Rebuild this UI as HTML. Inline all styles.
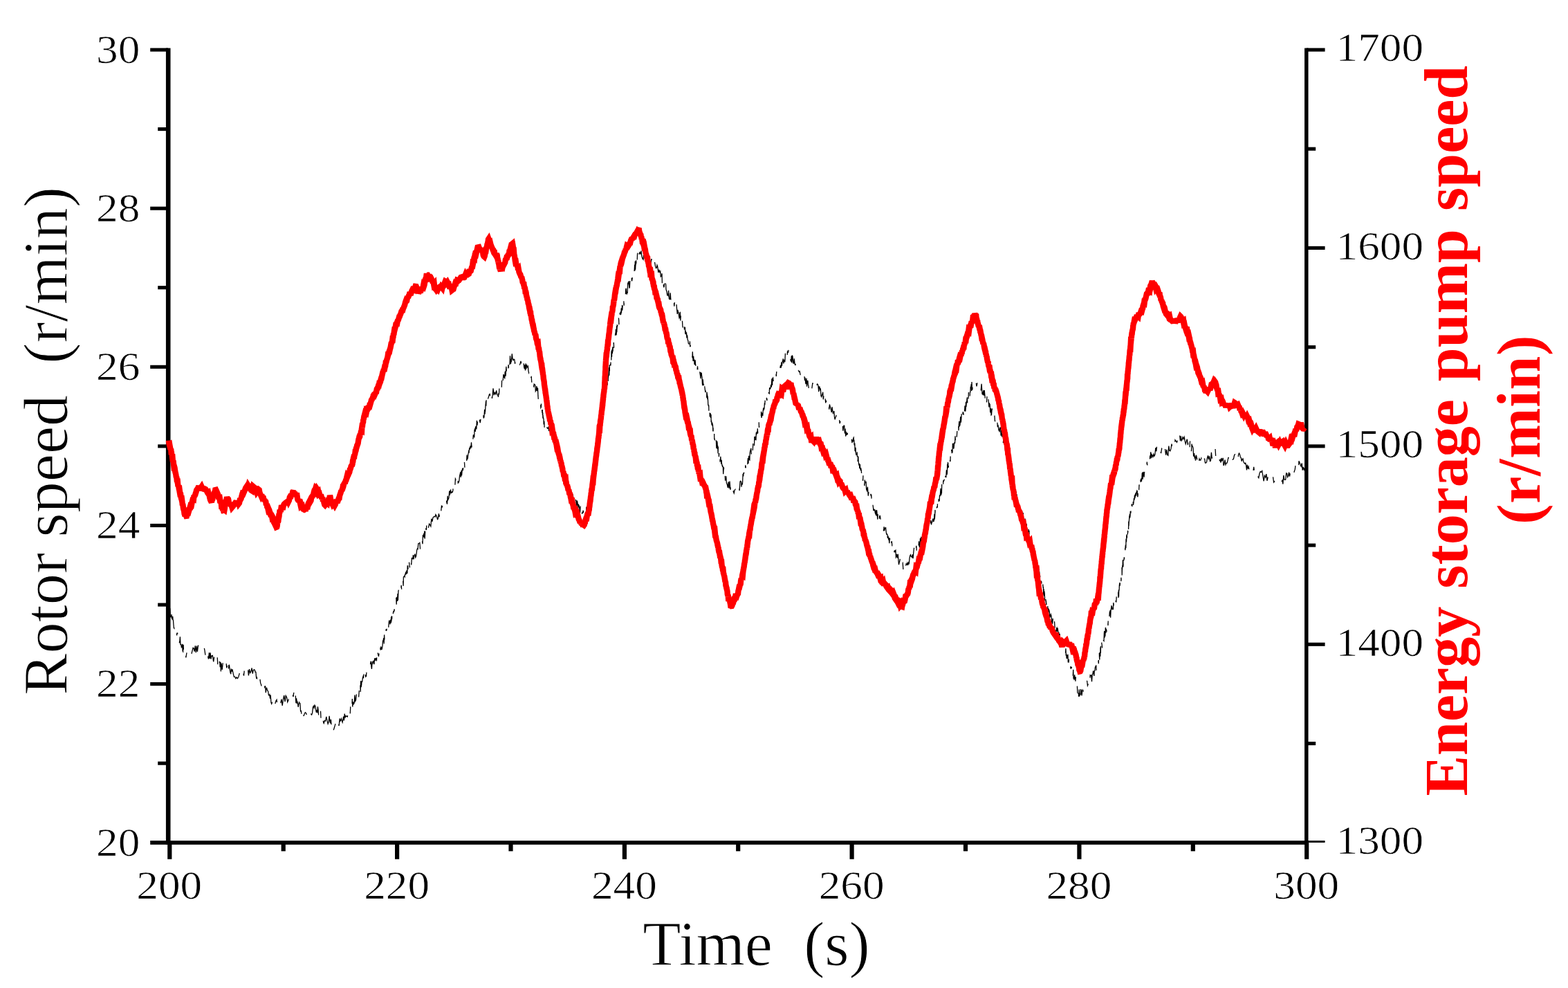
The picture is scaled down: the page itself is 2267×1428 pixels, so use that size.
<!DOCTYPE html>
<html lang="en"><head><meta charset="utf-8"><title>Rotor speed and energy storage pump speed</title>
<style>
html,body{margin:0;padding:0;background:#fff;}
body{width:2267px;height:1428px;overflow:hidden;}
svg{display:block;}
text{font-family:"Liberation Serif",serif;white-space:pre;}
.tk{font-size:56.5px;fill:#000;stroke:#fff;stroke-width:0.7px;}
.tt{stroke:#fff;stroke-width:1px;}
</style></head><body>
<svg width="2267" height="1428" viewBox="0 0 2267 1428">
<rect width="2267" height="1428" fill="#fff"/>
<g stroke="#000" stroke-width="5.1" fill="none" stroke-linecap="butt">
<line x1="243.2" y1="69.4" x2="243.2" y2="1220.6" stroke-width="6.6"/>
<line x1="1888.8" y1="69.4" x2="1888.8" y2="1220.6" stroke-width="5.5"/>
<line x1="217.2" y1="1217.8" x2="1891.5" y2="1217.8" stroke-width="5.7"/>
<line x1="1891" y1="1216.3999999999999" x2="1915.6" y2="1216.3999999999999" stroke-width="2.9"/>
<line x1="217.2" y1="72.0" x2="243" y2="72.0"/>
<line x1="228.2" y1="186.6" x2="243" y2="186.6"/>
<line x1="217.2" y1="301.2" x2="243" y2="301.2"/>
<line x1="228.2" y1="415.7" x2="243" y2="415.7"/>
<line x1="217.2" y1="530.3" x2="243" y2="530.3"/>
<line x1="228.2" y1="644.9" x2="243" y2="644.9"/>
<line x1="217.2" y1="759.5" x2="243" y2="759.5"/>
<line x1="228.2" y1="874.1" x2="243" y2="874.1"/>
<line x1="217.2" y1="988.6" x2="243" y2="988.6"/>
<line x1="228.2" y1="1103.2" x2="243" y2="1103.2"/>
<line x1="1888.8" y1="72.0" x2="1915.6" y2="72.0"/>
<line x1="1888.8" y1="215.2" x2="1902.2" y2="215.2"/>
<line x1="1888.8" y1="358.4" x2="1915.6" y2="358.4"/>
<line x1="1888.8" y1="501.7" x2="1902.2" y2="501.7"/>
<line x1="1888.8" y1="644.9" x2="1915.6" y2="644.9"/>
<line x1="1888.8" y1="788.1" x2="1902.2" y2="788.1"/>
<line x1="1888.8" y1="931.3" x2="1915.6" y2="931.3"/>
<line x1="1888.8" y1="1074.6" x2="1902.2" y2="1074.6"/>
<line x1="245.3" y1="1217.8" x2="245.3" y2="1241.8" stroke-width="6.2"/>
<line x1="409.7" y1="1217.8" x2="409.7" y2="1230.3" stroke-width="6.2"/>
<line x1="574.1" y1="1217.8" x2="574.1" y2="1241.8" stroke-width="6.2"/>
<line x1="738.5" y1="1217.8" x2="738.5" y2="1230.3" stroke-width="6.2"/>
<line x1="902.9" y1="1217.8" x2="902.9" y2="1241.8" stroke-width="6.2"/>
<line x1="1067.2" y1="1217.8" x2="1067.2" y2="1230.3" stroke-width="6.2"/>
<line x1="1231.6" y1="1217.8" x2="1231.6" y2="1241.8" stroke-width="6.2"/>
<line x1="1396.0" y1="1217.8" x2="1396.0" y2="1230.3" stroke-width="6.2"/>
<line x1="1560.4" y1="1217.8" x2="1560.4" y2="1241.8" stroke-width="6.2"/>
<line x1="1724.8" y1="1217.8" x2="1724.8" y2="1230.3" stroke-width="6.2"/>
<line x1="1889.2" y1="1217.8" x2="1889.2" y2="1241.8" stroke-width="6.2"/>
</g>
<path d="M244.0,888.4 L244.6,889.5 L245.2,878.3 L245.8,879.9 L246.4,891.6 L247.0,891.5 L247.6,891.8 L248.0,888.0 L248.4,893.4 L248.9,894.6 L249.3,895.5 L249.7,890.9 L250.1,895.9 L250.5,896.6 L250.9,902.5 L251.4,907.6 L251.8,908.2 L252.2,903.7 L252.6,903.6 L253.0,902.4 L253.4,900.4 L253.9,901.5 L254.3,908.9 L254.7,908.1 L255.2,910.1 L255.6,918.4 L256.1,914.5 L256.6,916.1 L257.1,912.8 L257.5,911.0 L258.0,916.4 L258.5,914.9 L259.0,921.3 L259.4,929.3 L259.9,925.9 L260.4,920.2 L260.9,931.4 L261.3,931.2 L261.8,931.5 L262.3,935.1 L262.7,934.2 L263.2,935.8 L263.7,930.9 L264.1,940.8 L264.6,941.7 L265.1,931.7 L265.5,941.2 L266.0,941.8 L266.5,939.5 L266.9,941.6 L267.4,942.2 L267.9,949.5 L268.3,944.7 L268.8,950.5 L270.0,943.3 L271.2,950.1 L272.4,949.7 L273.5,943.0 L274.7,943.8 L275.9,948.2 L277.0,944.7 L278.0,940.7 L279.1,936.3 L280.1,937.0 L281.2,941.6 L282.3,933.4 L283.3,943.1 L284.4,933.5 L285.4,941.8 L286.5,932.6 L287.6,942.4 L288.7,939.5 L289.8,937.3 L290.9,938.2 L292.0,940.7 L293.1,940.5 L294.2,937.3 L295.3,936.5 L296.2,941.6 L297.1,948.4 L297.9,945.0 L298.8,938.2 L299.7,949.5 L300.6,949.1 L301.5,952.5 L302.4,943.3 L303.2,952.0 L304.1,943.3 L305.0,952.5 L305.9,948.0 L307.3,947.4 L308.7,956.5 L310.2,945.7 L311.6,951.5 L313.0,956.2 L313.6,948.8 L314.2,949.5 L314.8,960.1 L315.3,954.8 L315.9,960.1 L316.5,951.7 L317.1,957.5 L317.7,956.0 L318.2,964.2 L318.8,957.1 L319.4,970.5 L320.0,958.7 L321.2,967.9 L322.3,957.4 L323.5,960.1 L324.7,967.3 L325.8,957.5 L327.0,957.3 L327.7,965.4 L328.5,962.1 L329.2,958.4 L330.0,972.7 L330.7,961.9 L331.4,961.4 L332.2,966.7 L332.9,971.5 L333.7,974.3 L334.4,966.5 L335.2,970.7 L335.9,967.4 L337.2,973.6 L338.4,978.3 L339.7,978.2 L340.9,980.7 L342.2,978.9 L343.4,980.7 L344.7,978.8 L345.8,974.9 L346.9,970.8 L348.1,976.2 L349.2,970.7 L350.3,967.1 L351.4,971.3 L352.5,976.6 L353.6,965.5 L354.8,971.3 L355.9,967.9 L357.0,969.0 L358.2,964.4 L359.4,976.4 L360.5,967.2 L361.7,972.6 L362.9,970.6 L364.1,965.5 L365.2,973.7 L366.4,968.4 L367.6,967.8 L368.4,968.5 L369.1,971.3 L369.9,971.4 L370.6,979.9 L371.4,979.2 L372.1,986.9 L372.9,987.2 L373.7,989.0 L374.4,979.4 L375.2,983.4 L375.9,981.7 L376.7,987.4 L377.4,988.9 L378.2,992.4 L378.9,992.2 L379.6,987.0 L380.2,990.4 L380.9,992.9 L381.6,986.7 L382.3,988.2 L382.9,994.5 L383.6,991.4 L384.3,1001.1 L385.0,995.4 L385.6,994.5 L386.3,996.8 L387.0,998.5 L387.7,999.4 L388.4,1004.7 L389.1,1005.0 L389.8,1003.9 L390.5,1009.6 L391.2,1004.6 L391.9,1015.4 L392.7,1017.3 L393.4,1015.0 L394.1,1012.0 L394.8,1014.1 L395.5,1016.2 L396.2,1009.8 L396.9,1016.0 L397.6,1018.6 L398.8,1013.2 L400.0,1011.4 L401.1,1020.7 L402.3,1014.0 L403.5,1015.6 L404.7,1020.6 L405.8,1015.7 L407.0,1010.6 L408.2,1019.8 L409.5,1010.7 L410.7,1005.2 L412.0,1014.1 L413.2,1005.4 L414.5,1007.7 L415.7,1014.7 L417.0,1011.8 L418.2,1002.0 L419.3,1007.6 L420.5,1006.4 L421.7,1006.9 L422.8,1002.4 L424.0,1007.1 L424.7,1001.1 L425.3,1005.1 L426.0,1007.5 L426.6,1016.5 L427.3,1005.6 L427.9,1016.2 L428.6,1009.4 L429.2,1015.8 L429.9,1014.4 L430.5,1016.6 L431.2,1021.8 L431.9,1017.8 L432.6,1015.1 L433.2,1016.2 L433.9,1016.7 L434.6,1028.5 L435.3,1026.7 L435.9,1032.2 L436.6,1029.6 L437.3,1021.3 L438.0,1031.3 L438.6,1034.0 L439.3,1034.3 L440.0,1032.3 L441.3,1029.8 L442.5,1030.7 L443.8,1035.0 L445.0,1027.1 L446.3,1030.2 L447.5,1029.0 L448.8,1035.2 L449.7,1032.2 L450.6,1033.1 L451.5,1030.8 L452.4,1022.4 L453.2,1020.6 L454.1,1023.3 L455.0,1019.2 L455.9,1020.7 L456.6,1025.3 L457.3,1029.7 L458.0,1026.1 L458.7,1030.4 L459.4,1021.3 L460.1,1026.0 L460.8,1036.1 L461.5,1025.2 L462.2,1030.1 L462.9,1026.2 L463.5,1027.7 L464.1,1040.2 L464.7,1042.7 L465.3,1039.1 L465.8,1033.0 L466.4,1036.6 L467.0,1036.9 L467.6,1044.2 L468.2,1045.5 L469.4,1041.5 L470.6,1042.1 L471.8,1035.8 L472.9,1041.2 L474.1,1046.3 L475.3,1043.0 L476.1,1034.7 L476.9,1041.6 L477.6,1045.3 L478.4,1039.9 L479.2,1049.8 L480.0,1044.7 L480.7,1049.1 L481.5,1045.9 L482.3,1055.1 L483.4,1051.5 L484.5,1047.9 L485.6,1041.3 L486.8,1044.8 L487.9,1038.4 L489.0,1045.6 L490.1,1049.0 L491.2,1038.5 L492.0,1042.1 L492.8,1040.8 L493.5,1038.7 L494.3,1041.9 L495.1,1044.1 L495.9,1039.9 L496.6,1035.6 L497.4,1041.5 L498.2,1031.6 L499.2,1036.7 L500.2,1034.7 L501.2,1035.4 L502.3,1036.0 L503.3,1026.4 L504.3,1031.2 L505.3,1027.4 L505.7,1029.9 L506.1,1033.1 L506.5,1027.0 L506.9,1017.1 L507.3,1022.2 L507.7,1024.5 L508.1,1025.7 L508.5,1021.2 L508.9,1022.3 L509.3,1009.9 L509.7,1021.6 L510.1,1017.4 L510.5,1014.5 L511.3,1017.7 L512.1,1016.4 L512.9,1004.5 L513.7,1013.5 L514.5,1011.9 L515.4,1003.0 L516.2,1009.6 L517.0,1006.4 L517.8,999.9 L518.6,1007.5 L519.4,997.2 L519.7,1002.6 L519.9,998.9 L520.2,995.1 L520.4,998.2 L520.7,995.6 L520.9,990.6 L521.2,1000.0 L521.5,986.3 L521.7,984.0 L522.0,989.5 L522.2,993.2 L522.5,989.4 L522.7,989.5 L523.0,984.5 L523.6,986.0 L524.3,980.1 L524.9,978.1 L525.5,980.2 L526.2,972.4 L526.8,972.1 L527.5,980.4 L528.1,971.1 L528.7,978.1 L529.4,977.4 L530.0,971.0 L530.7,973.7 L531.4,974.2 L532.0,974.1 L532.7,962.8 L533.4,962.2 L534.1,964.1 L534.7,964.2 L535.4,960.8 L536.1,955.7 L536.8,962.3 L537.4,966.9 L538.1,957.4 L538.8,958.7 L539.5,955.5 L540.2,955.3 L540.9,960.2 L541.6,951.3 L542.3,955.0 L543.0,951.6 L543.7,951.3 L544.4,955.5 L545.1,942.7 L545.8,952.1 L546.4,943.6 L546.9,947.2 L547.5,948.1 L548.0,944.9 L548.6,940.0 L549.1,945.0 L549.7,933.3 L550.2,939.7 L550.8,935.1 L551.3,935.8 L551.9,939.1 L552.4,937.1 L553.0,933.5 L553.4,927.7 L553.7,925.4 L554.1,927.3 L554.5,922.9 L554.9,922.3 L555.2,930.5 L555.6,917.4 L556.0,926.0 L556.3,918.6 L556.7,917.2 L557.1,915.3 L557.5,910.6 L557.8,914.7 L558.2,909.3 L558.7,912.0 L559.1,908.8 L559.6,916.0 L560.1,915.2 L560.6,907.4 L561.0,909.0 L561.5,911.8 L562.0,902.2 L562.5,897.9 L562.9,898.7 L563.4,896.8 L563.9,902.5 L564.4,897.1 L564.8,895.7 L565.3,900.6 L565.6,891.5 L565.8,898.4 L566.1,894.7 L566.4,890.2 L566.6,894.9 L566.9,887.0 L567.2,893.2 L567.5,892.7 L567.7,885.5 L568.0,886.9 L568.3,889.3 L568.5,885.2 L568.8,884.1 L569.2,884.5 L569.6,884.3 L570.0,880.5 L570.4,882.4 L570.8,871.6 L571.2,875.0 L571.6,874.4 L572.0,869.0 L572.4,868.1 L572.8,863.8 L573.2,873.6 L573.6,863.9 L574.0,864.4 L574.5,869.0 L575.0,858.0 L575.4,867.6 L575.9,854.8 L576.4,852.2 L576.9,855.5 L577.4,854.5 L577.8,861.1 L578.3,859.4 L578.8,856.6 L579.3,850.8 L579.8,851.1 L580.2,845.7 L580.7,852.8 L581.2,845.5 L581.6,842.8 L581.9,846.5 L582.3,838.5 L582.7,839.6 L583.1,846.9 L583.4,834.0 L583.8,833.5 L584.3,833.1 L584.7,832.6 L585.2,833.7 L585.6,830.2 L586.1,830.2 L586.5,827.7 L587.0,826.4 L587.4,830.3 L587.9,825.3 L588.3,824.6 L588.8,828.9 L589.2,817.8 L589.7,817.8 L590.2,826.4 L590.6,819.3 L591.1,823.0 L591.5,812.7 L592.0,817.0 L592.4,820.3 L592.9,812.0 L593.3,816.8 L593.8,813.4 L594.2,809.1 L594.7,816.4 L595.4,806.7 L596.0,806.7 L596.7,807.6 L597.4,802.2 L598.0,808.3 L598.7,803.8 L599.3,802.5 L600.0,800.6 L600.7,805.7 L601.3,804.6 L602.0,801.4 L602.7,794.8 L603.4,793.1 L604.1,793.6 L604.8,785.8 L605.5,785.5 L606.2,796.8 L606.8,783.5 L607.5,793.7 L608.2,789.0 L608.9,791.2 L609.6,778.3 L610.3,780.4 L611.0,786.2 L611.4,773.9 L611.8,774.0 L612.2,776.2 L612.6,772.5 L612.9,770.8 L613.3,776.9 L613.7,767.6 L614.1,778.7 L614.5,772.9 L614.9,763.3 L615.3,773.9 L615.7,763.5 L616.1,765.6 L616.5,765.4 L616.8,758.3 L617.2,762.2 L617.6,754.7 L618.0,755.4 L618.4,764.3 L619.5,762.2 L620.6,757.2 L621.7,758.7 L622.8,760.7 L623.8,749.7 L624.9,753.8 L626.0,748.1 L627.1,747.1 L628.2,746.3 L629.3,747.0 L629.9,743.7 L630.6,744.8 L631.2,746.1 L631.9,748.4 L632.5,750.6 L633.1,750.2 L633.8,746.5 L634.4,742.4 L635.1,747.1 L635.7,735.4 L636.4,733.6 L637.0,742.4 L637.7,738.6 L638.4,731.6 L639.1,732.8 L639.7,730.5 L640.4,731.2 L641.1,730.0 L641.8,728.4 L642.5,732.9 L643.2,731.9 L643.8,727.3 L644.5,724.8 L645.2,721.0 L645.9,726.6 L646.5,728.6 L647.2,716.8 L647.8,722.3 L648.4,721.1 L649.0,719.4 L649.7,709.5 L650.3,715.7 L650.9,709.6 L651.6,708.4 L652.2,712.7 L652.8,712.4 L653.4,711.0 L654.1,711.5 L654.7,709.8 L655.2,705.4 L655.8,698.2 L656.3,707.1 L656.8,706.6 L657.4,705.5 L657.9,701.0 L658.4,691.9 L658.9,692.9 L659.5,690.4 L660.0,696.6 L660.8,694.3 L661.5,688.3 L662.3,698.0 L663.0,697.3 L663.8,695.2 L664.5,688.1 L665.3,684.7 L665.7,682.3 L666.2,689.8 L666.6,686.9 L667.1,679.8 L667.5,687.4 L668.0,681.5 L668.4,678.2 L668.8,677.0 L669.3,680.1 L669.7,675.2 L670.2,676.9 L670.6,668.2 L671.0,675.2 L671.5,668.0 L671.9,675.7 L672.4,664.8 L672.8,665.3 L673.2,667.0 L673.7,663.8 L674.1,664.5 L674.6,668.9 L675.0,657.6 L675.5,664.4 L675.9,662.1 L676.3,662.2 L676.8,656.3 L677.2,655.2 L677.7,652.5 L678.1,653.2 L678.5,648.9 L679.0,646.8 L679.4,649.7 L679.9,644.5 L680.3,647.2 L680.8,647.5 L681.2,642.6 L681.5,639.4 L681.8,644.2 L682.2,646.5 L682.5,636.3 L682.8,640.5 L683.1,639.8 L683.4,641.7 L683.7,637.6 L684.1,631.1 L684.4,628.4 L684.7,635.9 L685.0,627.1 L685.3,621.8 L685.7,632.5 L686.0,621.8 L686.3,622.1 L686.6,620.9 L686.9,618.7 L687.2,624.0 L687.6,617.4 L687.9,617.5 L688.2,615.9 L688.8,620.5 L689.4,607.9 L690.0,614.6 L690.6,607.1 L691.1,606.2 L691.7,611.4 L692.3,607.0 L692.9,601.5 L693.5,607.6 L694.2,611.2 L694.9,606.3 L695.6,603.2 L696.3,606.4 L697.0,607.0 L697.8,595.2 L698.5,596.2 L699.2,604.5 L699.9,602.9 L700.6,591.7 L700.8,597.5 L701.1,598.6 L701.3,593.4 L701.6,593.7 L701.8,589.9 L702.1,584.6 L702.3,583.0 L702.5,579.7 L702.8,586.8 L703.0,578.2 L703.3,583.7 L703.5,579.2 L703.8,578.6 L704.0,584.8 L704.8,575.7 L705.6,575.9 L706.5,573.6 L707.3,570.4 L708.1,569.5 L708.9,572.9 L709.7,575.9 L710.5,564.8 L711.4,575.8 L712.2,571.0 L713.0,561.4 L714.2,571.1 L715.3,567.4 L716.5,569.6 L717.7,564.4 L718.8,570.7 L720.0,571.5 L720.4,573.9 L720.8,569.8 L721.1,570.3 L721.5,569.4 L721.9,561.0 L722.3,557.0 L722.6,562.0 L723.0,555.9 L723.4,554.8 L723.8,556.1 L724.2,557.8 L724.5,557.6 L724.9,556.8 L725.3,559.7 L725.7,546.7 L726.2,551.9 L726.6,544.1 L727.0,551.0 L727.5,546.5 L727.9,541.1 L728.4,542.3 L728.8,546.0 L729.2,542.2 L729.7,547.5 L730.1,538.1 L730.5,536.6 L731.0,543.6 L731.4,537.9 L731.9,529.7 L732.3,538.0 L732.8,530.9 L733.2,537.9 L733.7,532.4 L734.2,533.6 L734.7,533.7 L735.1,527.1 L735.6,532.4 L736.1,518.0 L736.6,521.3 L737.0,527.1 L737.5,514.3 L738.0,522.4 L738.5,525.8 L738.9,520.7 L739.4,521.6 L740.3,511.4 L741.1,518.8 L742.0,520.7 L742.9,519.1 L743.8,519.7 L744.6,525.8 L745.5,517.9 L746.4,517.1 L747.7,525.0 L749.0,530.5 L750.4,528.8 L751.7,526.8 L753.0,521.8 L754.4,530.5 L755.7,518.6 L757.0,521.8 L757.6,530.5 L758.3,533.1 L758.9,527.3 L759.5,535.5 L760.2,525.4 L760.8,533.4 L761.5,527.1 L762.1,530.5 L762.7,531.0 L763.4,529.6 L764.0,536.3 L764.6,538.8 L765.2,536.9 L765.8,543.2 L766.4,536.0 L767.0,543.7 L767.6,545.0 L768.2,544.5 L768.8,552.8 L769.4,542.9 L770.0,548.3 L770.6,550.0 L771.2,549.9 L771.7,559.6 L772.2,555.2 L772.8,555.6 L773.3,555.8 L773.8,557.0 L774.3,565.4 L774.8,564.5 L775.4,563.6 L775.9,558.0 L776.4,565.3 L776.8,560.1 L777.2,564.4 L777.5,561.1 L777.9,571.9 L778.3,577.0 L778.7,573.5 L779.0,573.8 L779.4,570.6 L779.8,574.6 L780.2,576.1 L780.6,576.8 L780.9,575.9 L781.3,576.5 L781.7,585.2 L781.9,589.3 L782.2,588.7 L782.4,587.2 L782.6,580.2 L782.8,585.3 L783.1,594.1 L783.3,597.2 L783.5,592.5 L783.7,594.1 L784.0,597.0 L784.2,592.1 L784.4,599.9 L784.7,596.3 L784.9,604.3 L785.1,600.2 L785.3,604.3 L785.6,604.1 L785.8,605.0 L786.0,605.3 L786.2,613.4 L786.5,611.9 L786.7,608.5 L786.9,611.0 L787.1,617.7 L787.4,616.9 L787.6,616.8 L788.6,621.8 L789.7,610.7 L790.8,618.1 L791.8,619.1 L792.9,617.4 L793.9,625.2 L795.0,625.9 L796.0,618.5 L796.4,622.8 L796.9,626.2 L797.3,626.4 L797.7,622.9 L798.2,630.3 L798.6,625.2 L799.0,623.6 L799.5,632.0 L799.9,633.0 L800.3,630.9 L800.8,633.4 L801.2,641.4 L801.7,640.1 L802.1,635.7 L802.5,644.0 L803.0,640.5 L803.4,639.4 L803.8,644.0 L804.3,647.1 L804.7,649.9 L805.1,647.9 L805.6,649.1 L806.0,646.6 L806.3,642.8 L806.7,649.9 L807.0,646.4 L807.3,659.2 L807.7,652.4 L808.0,657.0 L808.3,660.1 L808.7,653.6 L809.0,664.0 L809.3,658.2 L809.7,656.0 L810.0,664.5 L810.3,663.0 L810.7,671.5 L811.0,666.1 L811.3,662.5 L811.7,662.7 L812.0,664.1 L812.3,671.8 L812.7,676.2 L813.0,668.2 L813.3,673.3 L813.7,676.7 L814.0,683.8 L814.3,686.1 L814.7,686.0 L815.0,683.9 L815.4,684.3 L815.8,680.6 L816.1,687.3 L816.5,682.3 L816.9,685.5 L817.2,694.1 L817.6,691.7 L818.0,695.2 L818.4,692.8 L818.8,691.4 L819.1,695.8 L819.5,698.0 L819.9,694.6 L820.2,704.3 L820.6,707.5 L821.0,697.5 L821.4,699.6 L821.8,708.9 L822.1,708.9 L822.5,703.1 L822.9,709.5 L823.2,705.8 L823.6,715.8 L824.0,713.2 L824.6,713.3 L825.3,709.6 L825.9,714.2 L826.5,716.3 L827.2,715.9 L827.8,714.5 L828.4,715.9 L829.1,724.1 L829.7,728.4 L830.3,728.4 L831.0,726.4 L831.6,730.0 L832.2,722.0 L832.9,724.2 L833.5,732.3 L834.2,723.5 L834.9,725.7 L835.6,736.5 L836.3,729.4 L837.0,730.3 L837.8,734.3 L838.5,741.5 L839.2,731.0 L839.9,744.2 L840.6,737.3 L841.5,742.0 L842.4,741.6 L843.2,737.7 L844.1,750.4 L845.0,740.5 L845.6,748.2 L846.1,748.1 L846.7,741.0 L847.2,747.0 L847.8,733.3 L848.3,733.4 L848.9,737.0 L849.4,730.2 L850.0,739.3 L850.2,734.1 L850.4,736.6 L850.7,728.1 L850.9,723.2 L851.1,734.0 L851.3,723.1 L851.6,724.8 L851.8,719.4 L852.0,724.5 L852.2,721.5 L852.4,716.5 L852.7,713.0 L852.9,715.9 L853.1,720.8 L853.3,710.7 L853.6,710.5 L853.8,714.6 L854.0,713.6 L854.2,714.6 L854.4,711.1 L854.7,712.7 L854.9,701.7 L855.1,711.1 L855.3,697.3 L855.6,697.3 L855.8,695.7 L856.0,703.9 L856.2,698.8 L856.4,703.3 L856.6,702.8 L856.8,701.2 L857.0,695.1 L857.2,690.2 L857.4,697.4 L857.5,692.9 L857.7,684.1 L857.9,687.8 L858.1,679.1 L858.3,677.8 L858.5,685.2 L858.7,685.0 L858.9,685.7 L859.1,682.9 L859.3,673.0 L859.5,680.1 L859.7,682.2 L859.9,676.7 L860.1,672.6 L860.3,668.7 L860.5,664.2 L860.6,670.8 L860.8,674.2 L861.0,661.1 L861.2,669.7 L861.4,669.4 L861.6,660.5 L861.8,666.1 L862.0,655.2 L862.2,655.9 L862.3,658.4 L862.5,661.5 L862.7,655.4 L862.9,647.8 L863.0,658.3 L863.2,652.0 L863.4,653.6 L863.5,644.6 L863.7,644.8 L863.9,640.1 L864.1,640.2 L864.2,642.4 L864.4,640.8 L864.6,642.9 L864.7,644.1 L864.9,635.8 L865.1,642.8 L865.3,637.7 L865.4,632.1 L865.6,628.6 L865.8,638.1 L865.9,632.6 L866.1,622.7 L866.3,630.4 L866.5,624.9 L866.6,624.2 L866.8,627.7 L867.0,618.8 L867.1,618.2 L867.3,620.7 L867.5,624.5 L867.7,611.8 L867.8,621.0 L868.0,618.1 L868.2,609.2 L868.4,614.7 L868.6,612.8 L868.7,612.8 L868.9,609.0 L869.1,604.6 L869.3,606.0 L869.5,601.0 L869.7,602.7 L869.9,600.7 L870.0,595.2 L870.2,595.7 L870.4,596.0 L870.6,595.4 L870.8,596.4 L871.0,597.7 L871.1,589.6 L871.3,592.4 L871.5,588.1 L871.7,585.2 L871.9,582.7 L872.1,592.9 L872.3,591.2 L872.4,588.5 L872.6,578.0 L872.8,576.4 L873.0,574.5 L873.2,575.9 L873.5,576.4 L873.7,569.3 L874.0,573.8 L874.2,576.3 L874.5,577.0 L874.7,566.7 L874.9,562.8 L875.2,572.7 L875.4,565.6 L875.7,563.4 L875.9,559.9 L876.1,560.2 L876.4,558.9 L876.6,557.5 L876.9,555.9 L877.1,558.6 L877.3,561.4 L877.6,553.1 L877.8,553.3 L878.1,553.0 L878.3,556.7 L878.6,554.4 L878.8,556.2 L879.0,543.6 L879.2,551.1 L879.4,542.7 L879.5,545.4 L879.7,543.5 L879.9,542.9 L880.1,538.1 L880.3,533.3 L880.5,531.1 L880.7,542.7 L880.8,540.9 L881.0,533.7 L881.2,527.2 L881.4,536.4 L881.6,530.5 L881.8,528.8 L882.0,529.9 L882.1,521.8 L882.3,521.4 L882.5,528.5 L882.7,526.1 L882.9,528.4 L883.1,519.4 L883.3,525.7 L883.4,523.2 L883.6,516.6 L883.8,520.8 L884.0,509.3 L884.3,506.7 L884.5,515.9 L884.8,505.2 L885.0,509.2 L885.3,511.0 L885.5,509.0 L885.8,501.3 L886.1,508.0 L886.3,496.3 L886.6,502.3 L886.8,505.7 L887.1,499.6 L887.3,494.9 L887.6,503.4 L887.9,498.3 L888.1,498.0 L888.4,498.2 L888.6,497.5 L888.9,491.2 L889.1,493.4 L889.4,487.6 L889.7,482.9 L889.9,482.0 L890.2,480.5 L890.4,475.9 L890.7,483.0 L890.9,478.7 L891.2,484.5 L891.5,471.2 L891.8,480.2 L892.2,470.7 L892.5,471.2 L892.8,469.5 L893.1,477.5 L893.4,471.9 L893.7,468.1 L894.1,462.8 L894.4,459.6 L894.7,462.8 L895.0,470.1 L895.3,461.4 L895.7,463.3 L896.0,464.9 L896.3,452.0 L896.6,454.5 L896.9,454.6 L897.2,450.6 L897.6,451.5 L897.9,454.4 L898.2,445.5 L898.5,452.0 L898.8,445.2 L899.2,448.9 L899.5,440.9 L899.8,448.2 L900.1,441.8 L900.5,446.2 L900.8,446.9 L901.1,440.2 L901.4,431.0 L901.8,434.6 L902.1,441.8 L902.4,436.0 L902.7,436.2 L903.0,431.0 L903.4,436.2 L903.7,434.4 L904.0,429.0 L904.3,427.4 L904.7,419.3 L905.0,416.7 L905.3,418.2 L905.8,424.2 L906.2,424.8 L906.7,422.6 L907.2,423.0 L907.6,409.9 L908.1,408.7 L908.6,410.7 L909.0,406.2 L909.5,412.9 L910.0,416.6 L910.4,415.0 L910.9,402.7 L911.4,409.3 L911.8,408.3 L912.3,406.9 L912.7,402.2 L913.1,398.5 L913.4,406.3 L913.8,405.3 L914.2,401.4 L914.6,397.7 L915.0,389.3 L915.3,391.5 L915.7,389.7 L916.1,388.5 L916.5,386.8 L916.8,391.9 L917.2,390.8 L917.6,382.5 L917.9,391.4 L918.3,377.5 L918.6,389.6 L918.9,383.1 L919.2,382.7 L919.6,376.4 L919.9,380.8 L920.2,382.2 L920.5,371.5 L920.9,369.2 L921.2,377.1 L921.5,368.3 L921.8,365.1 L922.2,369.2 L922.5,363.7 L922.8,362.8 L923.1,362.5 L923.5,358.4 L923.8,367.5 L924.8,364.8 L925.8,366.9 L926.9,362.7 L927.9,370.4 L928.9,373.8 L930.0,375.2 L931.0,362.7 L932.0,367.3 L932.9,365.1 L933.8,371.4 L934.7,374.9 L935.6,375.1 L936.4,372.4 L937.3,381.8 L938.2,378.0 L939.1,384.1 L940.0,377.0 L940.9,380.9 L941.9,374.2 L942.8,381.2 L943.8,383.7 L944.7,378.8 L945.6,385.1 L946.6,379.2 L947.5,384.7 L948.5,387.6 L949.4,386.7 L950.0,383.3 L950.6,385.0 L951.2,388.7 L951.8,393.8 L952.4,391.9 L953.0,389.8 L953.5,392.9 L954.1,393.7 L954.7,392.4 L955.3,399.9 L955.9,399.4 L956.5,398.6 L957.0,395.2 L957.4,409.2 L957.9,398.2 L958.4,400.4 L958.8,404.0 L959.3,412.2 L959.8,415.4 L960.2,414.1 L960.7,407.6 L961.2,417.6 L961.6,407.5 L962.1,409.8 L962.6,411.0 L963.0,418.5 L963.5,420.1 L964.1,421.7 L964.8,427.3 L965.4,425.7 L966.0,426.8 L966.6,419.9 L967.3,431.4 L967.9,432.6 L968.5,432.5 L969.2,423.2 L969.8,433.2 L970.4,431.6 L971.0,432.9 L971.7,430.3 L972.3,438.5 L972.9,440.1 L973.6,440.7 L974.2,435.3 L974.8,442.6 L975.5,434.6 L976.1,444.0 L976.8,436.1 L977.4,436.9 L978.0,439.4 L978.7,448.2 L979.3,454.0 L979.9,447.9 L980.6,451.5 L981.2,451.8 L981.6,456.6 L982.1,459.6 L982.5,458.8 L983.0,453.2 L983.4,450.8 L983.8,463.5 L984.3,456.2 L984.7,464.1 L985.2,466.8 L985.6,458.3 L986.0,459.9 L986.5,464.3 L986.9,471.5 L987.4,472.8 L987.8,476.0 L988.2,467.2 L988.7,473.3 L989.1,478.1 L989.6,472.3 L990.0,476.5 L990.4,472.7 L990.8,482.8 L991.2,478.2 L991.6,480.1 L992.1,483.7 L992.5,480.2 L992.9,488.4 L993.3,484.7 L993.7,485.5 L994.1,490.9 L994.5,491.3 L994.9,493.1 L995.4,496.7 L995.8,497.0 L996.2,492.6 L996.6,497.2 L997.0,501.5 L997.3,491.4 L997.7,501.2 L998.0,500.6 L998.3,500.1 L998.7,497.4 L999.0,501.0 L999.3,508.8 L999.7,511.9 L1000.0,514.6 L1000.3,512.6 L1000.7,515.7 L1001.0,516.2 L1001.3,508.2 L1001.7,516.8 L1002.0,520.6 L1002.3,520.2 L1002.7,514.8 L1003.0,522.0 L1003.3,518.9 L1003.7,520.8 L1004.0,526.2 L1004.6,526.7 L1005.1,520.3 L1005.7,528.6 L1006.2,521.7 L1006.8,524.9 L1007.4,534.8 L1007.9,537.2 L1008.5,529.2 L1009.1,537.6 L1009.6,530.6 L1010.2,536.2 L1010.8,535.4 L1011.3,532.9 L1011.9,539.0 L1012.4,541.8 L1013.0,547.2 L1013.4,538.0 L1013.8,541.8 L1014.2,539.1 L1014.6,543.3 L1015.0,545.3 L1015.4,554.3 L1015.8,557.3 L1016.2,548.4 L1016.6,553.4 L1017.0,555.2 L1017.4,556.0 L1017.7,563.8 L1018.1,565.0 L1018.5,553.5 L1018.9,559.9 L1019.3,562.8 L1019.7,565.8 L1020.1,565.4 L1020.5,570.7 L1020.9,561.9 L1021.3,568.2 L1021.7,574.6 L1021.9,566.7 L1022.2,568.0 L1022.4,575.5 L1022.6,570.2 L1022.9,577.2 L1023.1,572.6 L1023.3,574.7 L1023.5,578.1 L1023.8,585.7 L1024.0,584.6 L1024.2,585.9 L1024.5,587.4 L1024.7,585.5 L1024.9,594.9 L1025.2,590.9 L1025.4,592.7 L1025.6,586.1 L1025.8,590.0 L1026.1,596.0 L1026.3,602.5 L1026.5,600.2 L1026.8,592.5 L1027.0,604.3 L1027.2,597.2 L1027.5,603.9 L1027.8,599.5 L1028.0,599.0 L1028.2,610.2 L1028.5,607.5 L1028.8,610.4 L1029.0,613.1 L1029.2,612.8 L1029.5,611.6 L1029.8,611.5 L1030.0,615.7 L1030.2,613.0 L1030.5,614.5 L1030.8,623.5 L1031.0,618.2 L1031.2,624.8 L1031.5,625.5 L1031.8,623.7 L1032.0,629.5 L1032.2,624.4 L1032.5,621.1 L1032.8,634.2 L1033.0,634.1 L1033.3,635.2 L1033.7,639.0 L1034.0,633.1 L1034.4,634.6 L1034.7,638.4 L1035.0,643.3 L1035.4,636.3 L1035.7,644.2 L1036.0,648.3 L1036.4,639.7 L1036.7,637.6 L1037.1,640.9 L1037.4,648.9 L1037.7,644.1 L1038.1,655.6 L1038.4,644.9 L1038.8,657.4 L1039.1,651.1 L1039.4,660.3 L1039.8,653.4 L1040.1,651.4 L1040.5,660.6 L1040.8,656.6 L1041.1,666.8 L1041.5,666.4 L1041.8,659.7 L1042.1,664.3 L1042.5,666.4 L1042.8,670.7 L1043.2,664.8 L1043.5,670.3 L1043.8,670.9 L1044.1,673.2 L1044.5,674.0 L1044.8,673.6 L1045.1,674.2 L1045.4,675.6 L1045.7,685.3 L1046.0,680.0 L1046.4,675.4 L1046.7,680.7 L1047.0,687.2 L1047.3,687.3 L1047.6,680.2 L1048.0,686.1 L1048.3,688.0 L1048.6,694.7 L1048.9,687.9 L1049.2,698.3 L1049.5,698.1 L1049.9,688.3 L1050.2,696.3 L1050.5,698.1 L1051.4,700.4 L1052.3,704.9 L1053.2,696.3 L1054.1,706.0 L1055.0,695.5 L1055.9,708.0 L1056.8,700.9 L1057.6,698.6 L1058.5,710.5 L1059.4,713.7 L1060.3,710.3 L1061.2,712.9 L1062.1,708.5 L1063.0,707.4 L1063.9,712.2 L1064.7,713.2 L1065.6,704.7 L1066.5,705.2 L1067.3,702.7 L1068.2,701.7 L1069.1,709.1 L1070.0,696.1 L1070.8,695.3 L1071.7,696.6 L1072.0,703.7 L1072.4,699.5 L1072.7,700.8 L1073.1,698.7 L1073.4,700.2 L1073.7,694.7 L1074.1,685.5 L1074.4,685.4 L1074.7,688.5 L1075.1,683.1 L1075.4,684.6 L1075.8,682.8 L1076.1,691.5 L1076.4,690.0 L1076.8,684.6 L1077.1,679.9 L1077.4,678.5 L1077.8,672.4 L1078.1,676.5 L1078.5,671.0 L1078.8,675.1 L1079.2,677.9 L1079.6,670.8 L1080.0,673.8 L1080.4,674.0 L1080.7,674.1 L1081.1,666.0 L1081.5,662.1 L1081.9,670.0 L1082.3,663.2 L1082.7,658.8 L1083.1,663.3 L1083.5,664.5 L1083.9,664.9 L1084.2,655.2 L1084.6,652.3 L1085.0,650.8 L1085.4,650.2 L1085.8,647.8 L1086.2,656.4 L1086.6,651.2 L1087.1,641.8 L1087.5,641.1 L1087.9,641.2 L1088.3,650.9 L1088.8,640.9 L1089.2,646.1 L1089.6,636.7 L1090.0,635.1 L1090.5,644.3 L1090.9,630.9 L1091.3,635.6 L1091.7,634.8 L1092.2,630.8 L1092.6,635.4 L1093.0,635.6 L1093.3,625.5 L1093.6,625.3 L1094.0,626.6 L1094.3,625.2 L1094.6,626.1 L1094.9,626.8 L1095.3,619.4 L1095.6,626.5 L1095.9,618.5 L1096.2,611.2 L1096.5,615.5 L1096.9,615.7 L1097.2,609.6 L1097.5,618.0 L1097.8,612.8 L1098.2,610.4 L1098.5,605.9 L1098.8,602.5 L1099.2,603.2 L1099.5,607.1 L1099.9,606.4 L1100.3,605.2 L1100.6,594.8 L1101.0,604.0 L1101.4,601.6 L1101.7,600.1 L1102.1,596.7 L1102.5,600.1 L1102.8,600.3 L1103.2,593.8 L1103.6,590.4 L1103.9,590.7 L1104.3,593.1 L1104.7,590.1 L1105.0,590.2 L1105.4,582.4 L1105.8,585.3 L1106.1,578.9 L1106.5,582.4 L1106.9,573.3 L1107.2,579.3 L1107.6,580.8 L1108.0,582.1 L1108.4,574.9 L1108.9,579.1 L1109.3,568.4 L1109.7,564.5 L1110.1,570.9 L1110.5,566.7 L1110.9,566.2 L1111.4,567.8 L1111.8,568.7 L1112.2,569.0 L1112.6,560.2 L1113.0,562.5 L1113.4,562.0 L1113.9,561.5 L1114.3,558.8 L1114.7,555.9 L1115.3,559.6 L1115.9,547.3 L1116.5,556.9 L1117.0,547.0 L1117.6,546.1 L1118.2,551.8 L1118.8,547.6 L1119.4,544.8 L1120.0,539.9 L1120.6,538.4 L1121.2,540.2 L1121.7,536.7 L1122.3,543.9 L1122.9,535.8 L1123.5,537.1 L1124.1,536.6 L1124.8,539.4 L1125.4,539.8 L1126.0,536.1 L1126.6,529.2 L1127.3,527.0 L1127.9,531.7 L1128.5,527.9 L1129.2,531.8 L1129.8,523.5 L1130.4,529.1 L1131.0,523.3 L1131.7,521.1 L1132.3,518.5 L1132.9,525.5 L1133.5,520.9 L1134.1,520.3 L1134.8,523.3 L1135.4,510.9 L1136.0,517.1 L1136.6,513.0 L1137.2,510.7 L1137.8,517.8 L1138.5,508.5 L1139.1,509.7 L1139.7,509.0 L1140.3,503.7 L1140.9,507.3 L1141.4,504.1 L1142.0,512.2 L1142.6,515.2 L1143.2,521.5 L1143.7,522.1 L1144.3,514.4 L1144.9,524.4 L1145.4,513.5 L1146.0,515.3 L1146.6,521.8 L1147.1,525.1 L1147.7,524.9 L1148.3,518.3 L1148.9,524.6 L1149.4,527.0 L1150.0,526.6 L1150.9,532.7 L1151.8,533.4 L1152.7,525.1 L1153.5,531.2 L1154.4,535.4 L1155.3,537.5 L1156.2,536.7 L1157.1,542.0 L1157.9,539.5 L1158.8,535.5 L1159.7,542.6 L1160.6,540.4 L1161.1,541.3 L1161.6,542.5 L1162.1,545.9 L1162.6,546.4 L1163.0,544.1 L1163.5,549.9 L1164.0,545.9 L1164.5,551.6 L1165.0,555.2 L1165.5,551.0 L1166.0,546.8 L1166.5,558.6 L1167.0,550.1 L1167.4,551.2 L1167.9,550.1 L1168.4,556.5 L1168.9,557.4 L1169.4,564.5 L1170.8,555.4 L1172.1,558.3 L1173.5,563.8 L1174.9,553.3 L1176.2,558.8 L1177.6,555.1 L1179.0,563.8 L1180.3,557.2 L1181.7,555.0 L1182.4,555.7 L1183.0,558.1 L1183.7,566.1 L1184.3,559.0 L1185.0,559.1 L1185.7,563.0 L1186.3,561.3 L1187.0,572.0 L1187.7,573.5 L1188.3,571.5 L1189.0,569.8 L1189.7,566.7 L1190.3,577.3 L1191.0,571.8 L1191.6,577.2 L1192.3,584.4 L1193.0,575.0 L1193.7,582.4 L1194.4,579.9 L1195.2,582.3 L1195.9,581.6 L1196.6,586.8 L1197.3,585.3 L1198.0,579.5 L1198.7,591.6 L1199.4,584.5 L1200.1,587.2 L1200.9,590.0 L1201.6,592.7 L1202.3,596.0 L1203.0,588.2 L1203.7,592.9 L1204.4,597.3 L1205.1,596.3 L1205.8,594.1 L1206.5,602.9 L1207.2,606.3 L1207.9,603.0 L1208.6,602.5 L1209.3,598.2 L1210.0,603.8 L1210.7,609.1 L1211.4,603.6 L1212.1,606.4 L1212.8,607.6 L1213.5,606.7 L1214.2,612.1 L1214.8,608.7 L1215.5,618.6 L1216.1,618.5 L1216.8,612.2 L1217.4,609.9 L1218.1,610.4 L1218.8,622.6 L1219.4,618.2 L1220.1,615.1 L1220.7,615.2 L1221.4,626.5 L1222.0,619.6 L1222.7,630.7 L1223.3,623.9 L1224.0,628.8 L1225.0,625.6 L1226.0,630.7 L1227.0,624.3 L1228.0,626.9 L1229.0,625.6 L1230.0,625.6 L1231.0,633.3 L1232.0,640.1 L1233.0,627.1 L1233.3,640.6 L1233.6,633.5 L1233.9,633.0 L1234.2,632.5 L1234.5,638.2 L1234.8,635.7 L1235.1,642.7 L1235.4,643.4 L1235.8,640.6 L1236.1,651.9 L1236.4,649.0 L1236.7,652.7 L1237.0,646.7 L1237.3,654.6 L1237.6,655.5 L1237.9,657.9 L1238.2,650.9 L1238.5,662.9 L1238.8,657.3 L1239.2,653.3 L1239.5,666.3 L1239.8,659.0 L1240.1,668.5 L1240.5,660.2 L1240.8,659.6 L1241.1,667.0 L1241.4,668.8 L1241.8,671.8 L1242.1,672.7 L1242.4,670.0 L1242.7,676.9 L1243.0,674.7 L1243.4,670.8 L1243.7,678.3 L1244.0,676.3 L1244.3,680.3 L1244.7,676.2 L1245.0,678.8 L1245.3,680.2 L1245.8,687.0 L1246.2,679.3 L1246.7,686.0 L1247.1,687.0 L1247.6,694.9 L1248.0,685.6 L1248.5,692.3 L1249.0,697.7 L1249.4,693.3 L1249.9,702.2 L1250.3,693.6 L1250.8,698.2 L1251.2,696.8 L1251.7,697.7 L1252.1,695.9 L1252.6,707.1 L1253.1,706.6 L1253.5,710.4 L1254.0,706.6 L1254.4,703.7 L1254.9,711.6 L1255.3,716.7 L1255.8,712.6 L1256.2,709.7 L1256.7,714.6 L1257.1,720.5 L1257.6,721.2 L1258.0,719.8 L1258.5,722.6 L1258.9,713.9 L1259.4,716.6 L1259.8,716.1 L1260.2,723.5 L1260.7,725.2 L1261.1,719.9 L1261.6,732.3 L1262.0,729.8 L1262.5,733.6 L1262.9,738.1 L1263.4,736.5 L1263.8,737.5 L1264.3,737.2 L1264.7,736.8 L1265.3,741.4 L1265.9,742.8 L1266.5,737.2 L1267.0,745.5 L1267.6,737.4 L1268.2,744.0 L1268.8,750.6 L1269.4,741.9 L1270.0,752.5 L1270.5,748.0 L1271.1,752.6 L1271.7,745.7 L1272.3,745.5 L1272.9,749.4 L1273.5,755.4 L1274.0,760.7 L1274.6,757.3 L1275.2,757.9 L1275.8,757.1 L1276.4,760.0 L1277.0,764.1 L1277.6,767.4 L1278.1,761.3 L1278.7,767.1 L1279.3,763.7 L1279.9,763.6 L1280.5,762.0 L1281.1,768.0 L1281.7,772.1 L1282.3,771.9 L1282.9,772.2 L1283.4,777.9 L1284.0,774.6 L1284.6,779.1 L1285.2,778.4 L1285.8,785.1 L1286.3,777.6 L1286.8,780.3 L1287.3,786.1 L1287.8,780.6 L1288.3,788.8 L1288.8,783.4 L1289.3,782.2 L1289.8,788.9 L1290.3,790.2 L1290.8,787.8 L1291.4,788.6 L1291.9,799.9 L1292.4,794.1 L1292.9,798.2 L1293.4,795.3 L1293.9,798.3 L1294.4,795.8 L1294.9,795.3 L1295.4,805.8 L1295.9,804.9 L1296.4,800.8 L1297.0,803.3 L1297.7,806.6 L1298.3,800.8 L1298.9,809.7 L1299.5,816.1 L1300.2,812.9 L1300.8,811.0 L1301.4,807.3 L1302.1,814.3 L1302.7,816.0 L1303.3,818.8 L1303.9,822.5 L1304.6,815.0 L1305.2,813.9 L1306.0,825.0 L1306.8,818.0 L1307.6,822.0 L1308.5,817.0 L1309.3,820.2 L1310.1,815.1 L1310.9,815.9 L1311.7,813.6 L1312.5,817.2 L1313.4,813.4 L1314.2,815.5 L1315.0,806.8 L1315.8,802.9 L1316.5,801.8 L1317.2,804.3 L1317.9,804.6 L1318.6,805.5 L1319.3,801.3 L1320.1,807.2 L1320.8,798.3 L1321.5,791.7 L1322.2,797.9 L1322.9,798.7 L1323.5,791.8 L1324.2,797.6 L1324.8,788.9 L1325.4,797.6 L1326.1,790.1 L1326.7,796.0 L1327.4,790.2 L1328.0,790.6 L1328.6,782.2 L1329.3,790.5 L1329.9,790.9 L1330.5,778.0 L1331.2,782.9 L1331.8,775.9 L1332.5,784.9 L1333.1,783.5 L1333.7,783.0 L1334.4,779.9 L1335.0,773.4 L1335.6,775.7 L1336.3,766.6 L1336.9,766.1 L1337.6,771.3 L1338.2,772.8 L1338.8,765.4 L1339.5,760.3 L1340.1,759.7 L1340.8,762.5 L1341.4,762.0 L1342.0,768.4 L1342.7,764.2 L1343.3,765.8 L1344.0,762.9 L1344.6,761.0 L1345.2,760.8 L1345.9,752.1 L1346.5,758.5 L1347.2,754.9 L1347.8,754.6 L1348.4,751.4 L1349.1,749.6 L1349.7,754.1 L1350.4,752.3 L1351.0,742.7 L1351.3,750.8 L1351.7,745.0 L1352.0,737.0 L1352.3,745.9 L1352.6,745.9 L1353.0,738.4 L1353.3,737.0 L1353.6,733.5 L1353.9,731.2 L1354.3,734.7 L1354.6,732.0 L1354.9,733.8 L1355.3,732.5 L1355.6,724.8 L1355.9,731.6 L1356.2,725.8 L1356.6,723.9 L1356.9,719.5 L1357.2,724.2 L1357.5,723.9 L1357.9,724.0 L1358.2,723.3 L1358.5,715.4 L1358.9,717.0 L1359.2,716.7 L1359.6,712.3 L1360.0,705.7 L1360.3,714.6 L1360.7,715.7 L1361.0,708.5 L1361.4,713.5 L1361.7,700.1 L1362.0,706.3 L1362.4,702.5 L1362.8,704.6 L1363.1,699.5 L1363.5,703.3 L1363.8,694.8 L1364.2,694.7 L1364.5,695.2 L1364.9,694.1 L1365.2,692.8 L1365.5,698.9 L1365.8,691.6 L1366.2,691.0 L1366.5,683.7 L1366.8,688.1 L1367.1,690.0 L1367.5,687.9 L1367.8,690.2 L1368.1,683.9 L1368.4,679.4 L1368.8,685.1 L1369.1,685.4 L1369.4,684.0 L1369.7,670.7 L1370.0,677.3 L1370.4,668.8 L1370.7,669.0 L1371.0,674.9 L1371.3,675.0 L1371.7,669.7 L1372.0,664.7 L1372.3,665.7 L1372.6,662.0 L1373.0,660.1 L1373.3,658.0 L1373.7,667.1 L1374.0,665.6 L1374.3,653.9 L1374.7,661.9 L1375.0,659.3 L1375.3,657.7 L1375.7,649.9 L1376.0,652.5 L1376.4,655.2 L1376.7,652.3 L1377.0,654.3 L1377.4,640.7 L1377.7,643.3 L1378.0,642.6 L1378.4,642.0 L1378.7,648.7 L1379.1,647.2 L1379.4,644.0 L1379.8,640.3 L1380.2,640.7 L1380.6,640.4 L1381.0,630.3 L1381.3,634.8 L1381.7,638.5 L1382.1,625.8 L1382.5,628.4 L1382.9,626.1 L1383.3,631.6 L1383.7,624.8 L1384.1,619.0 L1384.5,621.0 L1384.8,623.6 L1385.2,620.9 L1385.6,612.3 L1386.0,622.1 L1386.4,613.4 L1386.8,608.7 L1387.2,615.7 L1387.7,615.1 L1388.1,612.9 L1388.5,604.5 L1388.9,602.2 L1389.3,610.8 L1389.7,606.6 L1390.2,598.4 L1390.6,604.8 L1391.0,596.9 L1391.4,601.1 L1391.8,603.2 L1392.2,595.2 L1392.7,596.5 L1393.1,599.6 L1393.5,592.2 L1393.9,595.7 L1394.3,586.6 L1394.6,594.4 L1395.0,586.5 L1395.4,588.0 L1395.8,594.6 L1396.2,590.3 L1396.5,580.8 L1396.9,588.1 L1397.3,581.2 L1397.7,581.3 L1398.0,577.0 L1398.4,574.3 L1398.8,584.4 L1399.2,574.8 L1399.6,571.0 L1400.0,578.1 L1400.4,567.1 L1400.9,570.1 L1401.3,564.7 L1401.7,562.4 L1402.1,574.4 L1402.5,566.2 L1402.9,567.3 L1403.3,558.9 L1403.7,560.7 L1404.2,555.2 L1404.6,564.9 L1405.0,552.0 L1405.4,563.8 L1405.8,562.9 L1406.7,551.1 L1407.6,551.3 L1408.4,548.8 L1409.3,545.6 L1410.2,550.9 L1411.1,552.5 L1412.0,558.5 L1412.9,553.8 L1413.8,550.5 L1414.7,555.0 L1415.5,552.2 L1416.4,551.4 L1417.3,557.3 L1418.2,564.4 L1419.1,554.9 L1420.0,568.3 L1420.5,567.7 L1421.1,571.1 L1421.6,566.7 L1422.2,563.9 L1422.7,571.6 L1423.2,564.1 L1423.8,570.6 L1424.3,576.1 L1424.8,573.2 L1425.4,577.6 L1425.9,570.7 L1426.5,581.4 L1427.0,572.7 L1427.5,576.4 L1427.9,581.3 L1428.4,587.0 L1428.9,577.0 L1429.3,580.4 L1429.8,588.5 L1430.3,582.3 L1430.7,585.5 L1431.2,583.7 L1431.7,596.3 L1432.1,594.6 L1432.6,590.1 L1433.1,599.9 L1433.5,599.5 L1434.0,592.8 L1434.6,590.5 L1435.3,600.6 L1435.9,600.6 L1436.5,596.5 L1437.2,594.0 L1437.8,599.0 L1438.5,609.2 L1439.1,606.8 L1439.7,607.7 L1440.4,609.2 L1441.0,604.4 L1441.5,614.1 L1441.9,609.6 L1442.3,617.1 L1442.8,613.9 L1443.2,616.0 L1443.7,619.9 L1444.2,622.6 L1444.6,620.0 L1445.1,624.4 L1445.5,618.1 L1446.0,617.9 L1446.4,618.3 L1446.8,621.1 L1447.1,629.7 L1447.5,623.0 L1447.9,623.1 L1448.3,622.1 L1448.6,632.2 L1449.0,636.4 L1449.4,630.5 L1449.8,627.9 L1450.1,637.7 L1450.5,640.1 L1450.9,635.2 L1451.3,637.3 L1451.6,637.2 L1452.0,640.7 L1452.4,643.6 L1452.8,648.6 L1453.1,641.5 L1453.5,651.6 L1453.9,647.9 L1454.3,647.0 L1454.6,653.6 L1455.0,646.3 L1455.3,651.9 L1455.5,658.3 L1455.8,658.5 L1456.0,660.2 L1456.3,656.8 L1456.5,659.7 L1456.8,662.9 L1457.1,656.7 L1457.3,668.0 L1457.6,667.0 L1457.8,663.9 L1458.1,666.8 L1458.3,672.9 L1458.6,661.1 L1458.8,666.1 L1459.1,675.8 L1459.4,665.5 L1459.6,675.8 L1459.9,671.5 L1460.1,672.1 L1460.4,670.6 L1460.6,675.2 L1460.9,677.6 L1461.2,682.9 L1461.4,686.4 L1461.7,684.7 L1461.9,679.8 L1462.2,686.2 L1462.4,693.2 L1462.7,684.8 L1462.9,692.5 L1463.2,687.1 L1463.5,689.5 L1463.7,694.2 L1464.0,699.5 L1464.2,696.7 L1464.5,693.1 L1464.7,699.8 L1465.0,693.7 L1465.4,704.5 L1465.7,703.3 L1466.1,701.4 L1466.4,706.8 L1466.8,704.2 L1467.1,707.4 L1467.5,710.0 L1467.9,714.2 L1468.2,706.9 L1468.6,719.0 L1468.9,718.6 L1469.3,710.6 L1469.6,722.0 L1470.0,714.2 L1470.4,723.6 L1470.7,716.0 L1471.1,726.3 L1471.4,727.6 L1471.8,724.6 L1472.1,727.5 L1472.5,729.8 L1472.9,729.4 L1473.2,726.4 L1473.6,733.8 L1473.9,736.9 L1474.3,733.0 L1474.6,738.8 L1475.0,733.1 L1475.4,735.5 L1475.8,740.0 L1476.2,736.2 L1476.7,744.0 L1477.1,745.4 L1477.5,738.4 L1477.9,742.4 L1478.3,750.3 L1478.8,746.5 L1479.2,741.0 L1479.6,753.1 L1480.0,745.6 L1480.4,750.8 L1480.8,758.1 L1481.2,757.5 L1481.7,758.4 L1482.1,749.5 L1482.5,754.0 L1482.9,753.4 L1483.3,766.7 L1483.8,757.2 L1484.2,757.7 L1484.6,766.7 L1485.0,768.9 L1485.4,769.3 L1485.8,767.9 L1486.2,774.2 L1486.7,771.4 L1487.1,764.8 L1487.5,777.2 L1487.9,766.8 L1488.3,781.9 L1488.8,777.4 L1489.2,779.3 L1489.6,775.1 L1490.0,785.1 L1490.4,779.3 L1490.8,783.6 L1491.2,777.6 L1491.7,787.4 L1492.1,791.0 L1492.5,789.1 L1492.9,793.1 L1493.3,791.0 L1493.8,792.0 L1494.2,797.2 L1494.6,789.3 L1495.0,793.5 L1495.3,800.5 L1495.6,800.9 L1495.9,804.6 L1496.1,803.4 L1496.4,803.8 L1496.7,804.6 L1497.0,800.2 L1497.3,809.1 L1497.6,811.0 L1497.9,804.1 L1498.1,807.4 L1498.4,809.5 L1498.7,815.0 L1499.0,807.1 L1499.3,809.0 L1499.6,821.5 L1499.9,820.6 L1500.1,816.9 L1500.4,814.8 L1500.7,813.8 L1501.0,817.1 L1501.3,828.7 L1501.6,818.7 L1501.9,830.8 L1502.1,822.7 L1502.4,832.7 L1502.7,825.9 L1503.0,833.9 L1503.3,836.1 L1503.6,833.8 L1503.9,831.2 L1504.1,836.1 L1504.4,833.9 L1504.7,845.3 L1505.0,839.4 L1505.3,842.3 L1505.6,840.0 L1505.9,842.8 L1506.2,850.6 L1506.6,851.7 L1506.9,852.1 L1507.2,855.0 L1507.5,856.9 L1507.8,844.5 L1508.1,849.6 L1508.4,848.0 L1508.8,859.7 L1509.1,851.3 L1509.4,861.6 L1509.7,854.4 L1510.0,855.8 L1510.3,858.8 L1510.6,868.0 L1510.9,860.2 L1511.2,860.7 L1511.6,870.2 L1511.9,864.1 L1512.2,869.9 L1512.5,869.7 L1512.8,874.1 L1513.1,872.4 L1513.4,869.9 L1513.8,869.8 L1514.1,881.0 L1514.4,873.7 L1514.7,875.3 L1515.0,881.1 L1515.5,887.5 L1516.0,880.5 L1516.4,881.1 L1516.9,882.6 L1517.4,885.3 L1517.9,893.0 L1518.3,889.4 L1518.8,890.2 L1519.3,888.1 L1519.8,889.7 L1520.2,892.4 L1520.7,898.6 L1521.2,901.1 L1521.7,901.1 L1522.1,893.9 L1522.6,905.1 L1523.1,897.5 L1523.6,899.0 L1524.0,902.2 L1524.5,898.2 L1525.0,905.2 L1525.6,912.4 L1526.2,902.0 L1526.8,915.1 L1527.4,908.4 L1527.9,907.4 L1528.5,912.6 L1529.1,907.6 L1529.7,912.1 L1530.3,919.3 L1530.9,913.9 L1531.5,921.3 L1532.1,916.1 L1532.6,923.8 L1533.2,924.5 L1533.8,923.7 L1534.4,923.3 L1535.0,921.2 L1535.4,920.7 L1535.8,927.7 L1536.3,926.6 L1536.7,934.8 L1537.1,925.8 L1537.5,926.7 L1538.0,931.4 L1538.4,935.7 L1538.8,939.6 L1539.2,939.4 L1539.6,935.4 L1540.1,934.1 L1540.5,943.6 L1540.9,937.2 L1541.3,947.8 L1541.8,946.8 L1542.2,951.9 L1542.6,946.7 L1543.0,948.2 L1543.4,952.0 L1543.9,945.8 L1544.3,957.5 L1544.7,955.1 L1545.1,957.7 L1545.6,950.3 L1546.0,954.5 L1546.4,953.9 L1546.8,957.6 L1547.2,959.6 L1547.6,968.4 L1548.0,963.2 L1548.4,965.7 L1548.8,964.9 L1549.2,966.0 L1549.6,962.4 L1550.0,972.1 L1550.4,970.7 L1550.8,967.9 L1551.3,976.8 L1551.7,967.7 L1552.1,981.0 L1552.5,977.4 L1552.9,982.8 L1553.3,979.3 L1553.7,975.3 L1554.1,981.4 L1554.5,978.9 L1554.9,984.8 L1555.3,978.4 L1555.7,989.2 L1556.0,992.0 L1556.4,990.0 L1556.7,988.4 L1557.1,994.2 L1557.4,991.6 L1557.8,1000.9 L1558.1,1001.3 L1558.5,996.0 L1558.8,1002.5 L1559.2,996.0 L1559.5,1006.8 L1559.9,1004.5 L1560.2,996.4 L1560.6,1006.7 L1561.3,1001.9 L1562.0,1004.6 L1562.6,996.1 L1563.3,998.2 L1564.0,1005.4 L1564.7,999.2 L1565.3,997.2 L1566.0,998.5 L1566.7,989.6 L1567.4,988.8 L1568.0,991.4 L1568.7,989.7 L1569.4,990.2 L1570.2,990.3 L1570.9,982.7 L1571.7,984.6 L1572.4,990.9 L1573.2,989.0 L1573.9,986.3 L1574.7,977.2 L1575.5,984.7 L1576.2,975.8 L1577.0,976.4 L1577.7,976.0 L1578.5,985.3 L1579.2,975.3 L1580.0,973.8 L1580.6,969.6 L1581.2,972.9 L1581.8,976.9 L1582.3,969.5 L1582.9,969.4 L1583.5,964.0 L1584.1,963.4 L1584.7,961.5 L1585.2,970.5 L1585.8,969.5 L1586.4,963.1 L1587.0,963.3 L1587.3,959.5 L1587.5,962.4 L1587.8,954.7 L1588.0,955.2 L1588.3,959.2 L1588.5,952.6 L1588.8,960.4 L1589.0,951.8 L1589.3,944.0 L1589.5,949.5 L1589.8,953.6 L1590.0,942.7 L1590.3,945.1 L1590.5,945.5 L1590.8,948.8 L1591.0,935.4 L1591.3,944.0 L1591.5,933.8 L1591.8,941.3 L1592.0,943.3 L1592.3,937.8 L1592.6,928.0 L1592.9,930.3 L1593.2,931.8 L1593.5,936.5 L1593.9,928.7 L1594.2,924.9 L1594.5,930.6 L1594.8,929.2 L1595.1,931.4 L1595.4,925.1 L1595.7,925.9 L1596.0,926.3 L1596.4,915.4 L1596.7,912.0 L1597.0,921.7 L1597.3,917.7 L1597.6,919.9 L1597.9,918.2 L1598.3,906.9 L1598.6,907.7 L1599.0,914.6 L1599.3,909.2 L1599.6,911.1 L1600.0,911.6 L1600.3,897.8 L1600.6,899.9 L1601.0,896.1 L1601.3,897.0 L1601.7,898.0 L1602.0,904.1 L1602.3,893.1 L1602.7,895.6 L1603.0,893.5 L1603.3,899.6 L1603.7,894.5 L1604.0,889.5 L1604.4,883.7 L1604.7,884.9 L1605.2,881.8 L1605.6,892.7 L1606.1,881.8 L1606.6,879.0 L1607.0,875.8 L1607.5,876.3 L1608.0,881.3 L1608.4,878.8 L1608.9,878.8 L1609.4,879.6 L1609.8,871.0 L1610.3,875.5 L1610.8,874.2 L1611.2,878.5 L1611.7,869.4 L1612.2,865.4 L1612.8,864.3 L1613.3,869.8 L1613.8,869.9 L1614.3,861.6 L1614.9,867.7 L1615.4,868.0 L1615.9,859.0 L1616.5,853.8 L1617.0,864.1 L1617.2,853.5 L1617.5,862.5 L1617.7,852.9 L1618.0,853.0 L1618.2,851.0 L1618.4,844.5 L1618.7,847.1 L1618.9,842.1 L1619.2,846.4 L1619.4,839.9 L1619.6,845.5 L1619.9,843.2 L1620.1,847.3 L1620.4,844.6 L1620.6,840.4 L1620.8,841.6 L1620.9,834.7 L1621.1,839.2 L1621.2,835.2 L1621.4,836.8 L1621.6,836.1 L1621.7,831.9 L1621.9,833.8 L1622.1,820.1 L1622.2,831.6 L1622.4,824.0 L1622.5,823.0 L1622.7,817.8 L1622.9,817.7 L1623.0,819.7 L1623.2,815.6 L1623.4,809.5 L1623.6,812.9 L1623.8,809.1 L1623.9,819.5 L1624.1,805.6 L1624.3,813.1 L1624.5,812.5 L1624.7,814.5 L1624.9,809.6 L1625.1,808.2 L1625.2,805.4 L1625.4,808.1 L1625.6,806.1 L1625.8,800.1 L1626.0,805.2 L1626.2,798.5 L1626.4,794.9 L1626.6,791.9 L1626.8,795.3 L1627.0,793.0 L1627.2,788.3 L1627.4,789.3 L1627.6,787.2 L1627.8,792.3 L1628.0,780.5 L1628.2,778.5 L1628.4,783.3 L1628.6,782.5 L1628.8,774.0 L1629.0,778.6 L1629.1,772.9 L1629.3,772.5 L1629.5,779.4 L1629.6,767.5 L1629.8,768.9 L1630.0,771.6 L1630.1,775.0 L1630.3,773.2 L1630.5,768.1 L1630.6,766.8 L1630.8,769.7 L1631.0,764.7 L1631.1,766.8 L1631.3,760.8 L1631.5,755.1 L1631.6,765.0 L1631.8,753.8 L1632.0,757.5 L1632.1,757.7 L1632.3,753.9 L1632.6,750.8 L1632.9,745.3 L1633.1,749.3 L1633.4,742.9 L1633.7,748.1 L1634.0,745.5 L1634.3,738.9 L1634.5,741.7 L1634.8,741.6 L1635.1,737.9 L1635.4,746.1 L1635.6,735.6 L1635.9,731.2 L1636.2,729.4 L1636.5,728.5 L1636.8,732.3 L1637.0,725.4 L1637.3,730.0 L1637.6,735.3 L1638.1,724.8 L1638.5,729.9 L1639.0,726.4 L1639.5,720.1 L1640.0,722.6 L1640.4,715.6 L1640.9,720.3 L1641.4,714.4 L1641.9,713.4 L1642.3,717.0 L1642.8,714.6 L1643.3,710.8 L1643.8,709.2 L1644.2,709.8 L1644.7,718.2 L1645.1,716.9 L1645.5,706.5 L1645.9,701.2 L1646.3,706.4 L1646.6,710.8 L1647.0,700.4 L1647.4,709.7 L1647.8,700.4 L1648.2,697.0 L1648.6,693.1 L1649.0,694.7 L1649.4,696.9 L1649.8,692.2 L1650.1,692.3 L1650.5,695.7 L1650.9,691.3 L1651.3,684.2 L1651.7,683.1 L1652.2,692.7 L1652.6,681.9 L1653.1,683.8 L1653.6,686.7 L1654.1,689.6 L1654.5,682.0 L1655.0,684.1 L1655.5,681.0 L1656.0,682.4 L1656.4,676.7 L1656.9,671.9 L1657.4,675.3 L1657.9,675.3 L1658.3,667.5 L1658.8,672.5 L1659.3,669.4 L1659.9,667.1 L1660.4,667.4 L1661.0,664.4 L1661.5,663.2 L1662.1,670.7 L1662.6,660.1 L1663.2,661.1 L1663.7,653.3 L1664.3,656.1 L1664.8,662.1 L1665.4,656.6 L1665.9,657.9 L1666.9,660.3 L1667.9,656.4 L1668.8,659.2 L1669.8,657.2 L1670.8,647.2 L1671.8,652.4 L1672.7,643.1 L1673.7,650.9 L1674.7,653.8 L1675.7,652.2 L1676.7,655.2 L1677.6,651.6 L1678.6,655.2 L1679.6,648.4 L1680.6,649.9 L1681.5,648.0 L1682.5,649.4 L1683.5,659.2 L1684.5,649.0 L1685.6,657.7 L1686.7,649.9 L1687.7,657.3 L1688.8,658.3 L1689.8,644.6 L1690.8,651.4 L1691.9,651.9 L1693.0,648.4 L1694.0,641.5 L1694.8,647.2 L1695.7,649.1 L1696.5,645.6 L1697.3,639.6 L1698.2,644.0 L1699.0,635.8 L1699.8,637.0 L1700.7,638.2 L1701.5,639.3 L1702.3,636.8 L1703.2,634.3 L1704.0,642.8 L1704.8,630.2 L1705.7,630.1 L1706.5,637.3 L1707.3,630.4 L1708.2,637.0 L1709.0,635.8 L1710.0,631.9 L1711.1,634.5 L1712.2,631.7 L1713.2,637.7 L1714.2,641.6 L1715.3,637.6 L1716.3,634.8 L1717.4,643.2 L1718.5,631.3 L1719.5,642.6 L1720.0,646.5 L1720.5,637.6 L1721.0,644.5 L1721.5,638.3 L1722.0,643.5 L1722.5,652.3 L1723.0,641.5 L1723.5,644.1 L1724.1,644.9 L1724.6,646.1 L1725.1,648.2 L1725.6,659.6 L1726.1,656.0 L1726.6,655.8 L1727.1,661.1 L1727.6,660.2 L1728.5,665.6 L1729.4,657.7 L1730.3,661.3 L1731.3,667.5 L1732.2,660.1 L1733.1,669.7 L1734.0,663.0 L1734.9,665.0 L1735.8,665.2 L1736.8,662.3 L1737.7,666.5 L1738.6,672.4 L1739.5,675.4 L1740.5,670.5 L1741.5,662.6 L1742.5,669.2 L1743.5,669.2 L1744.5,667.9 L1745.5,662.0 L1746.5,658.4 L1747.5,664.1 L1748.5,659.4 L1749.5,666.6 L1750.4,666.0 L1751.4,653.9 L1752.3,662.7 L1753.2,657.3 L1754.2,656.0 L1755.1,655.4 L1756.1,660.1 L1757.0,648.3 L1757.8,661.3 L1758.6,662.0 L1759.4,656.3 L1760.2,664.9 L1761.0,663.6 L1761.8,663.0 L1762.6,661.9 L1763.4,665.6 L1764.2,664.7 L1765.0,668.7 L1765.8,662.0 L1766.6,665.7 L1767.4,664.6 L1768.2,661.9 L1769.0,672.9 L1770.0,670.6 L1771.0,664.5 L1772.0,671.7 L1773.0,669.5 L1774.0,669.2 L1775.0,665.7 L1776.0,660.9 L1777.0,664.9 L1778.0,658.4 L1779.0,661.4 L1780.0,664.4 L1781.1,659.7 L1782.3,664.2 L1783.4,663.3 L1784.6,657.8 L1785.7,656.3 L1786.9,654.3 L1788.0,656.5 L1788.9,652.2 L1789.8,663.6 L1790.7,656.4 L1791.6,655.1 L1792.5,656.9 L1793.4,660.9 L1794.3,661.6 L1795.2,666.7 L1796.1,663.7 L1797.0,663.0 L1797.9,667.6 L1798.8,669.0 L1799.8,670.1 L1800.7,669.2 L1801.6,672.4 L1802.5,679.5 L1803.4,671.7 L1804.3,677.5 L1805.2,674.7 L1806.2,679.6 L1807.1,676.1 L1808.0,682.7 L1809.2,686.0 L1810.4,682.7 L1811.5,683.8 L1812.7,674.8 L1813.9,684.3 L1815.1,685.0 L1816.3,678.2 L1817.5,687.4 L1818.6,688.7 L1819.8,690.7 L1821.0,684.3 L1822.2,681.6 L1823.4,682.6 L1824.7,680.5 L1825.9,688.0 L1827.1,695.3 L1828.3,687.4 L1829.6,690.1 L1830.8,685.2 L1832.0,694.8 L1833.2,689.4 L1834.4,688.8 L1835.6,696.6 L1836.8,695.3 L1838.0,694.0 L1839.2,696.4 L1840.4,688.7 L1841.6,697.1 L1842.8,695.6 L1844.0,696.7 L1845.2,692.9 L1846.4,695.1 L1847.6,690.5 L1848.8,696.0 L1850.0,696.7 L1851.0,697.0 L1851.9,695.2 L1852.9,696.0 L1853.9,694.3 L1854.8,699.7 L1855.8,687.1 L1856.8,693.1 L1857.7,693.6 L1858.7,693.3 L1859.7,683.9 L1860.7,684.2 L1861.6,689.6 L1862.6,687.7 L1863.6,682.6 L1864.5,688.6 L1865.5,682.6 L1866.5,679.1 L1867.4,681.2 L1868.4,676.8 L1869.4,683.4 L1870.3,685.6 L1871.3,681.3 L1872.3,678.4 L1873.2,670.8 L1874.2,681.9 L1875.1,680.0 L1876.1,678.5 L1877.1,676.2 L1878.0,666.3 L1879.0,668.7 L1880.1,671.9 L1881.1,674.2 L1882.2,669.5 L1883.2,679.7 L1884.3,675.0 L1885.3,679.0 L1886.4,676.6" fill="none" stroke="#000" stroke-width="1.3" stroke-dasharray="62 24 10 24" stroke-linejoin="miter"/>
<path d="M244.0,636.7 L244.4,640.8 L244.7,642.0 L245.1,641.8 L245.5,644.2 L245.8,645.5 L246.2,647.8 L246.5,649.8 L246.9,648.9 L247.3,650.2 L247.6,654.6 L248.0,654.8 L248.3,657.4 L248.6,656.4 L248.9,659.5 L249.2,661.9 L249.5,661.8 L249.8,665.8 L250.1,667.2 L250.4,665.8 L250.7,667.3 L251.0,670.6 L251.3,673.5 L251.7,673.2 L252.0,674.2 L252.3,676.4 L252.6,676.6 L252.9,678.8 L253.2,681.1 L253.5,682.8 L253.8,683.5 L254.1,685.0 L254.4,686.5 L254.7,688.9 L255.1,689.8 L255.4,690.3 L255.8,694.8 L256.2,695.3 L256.6,697.1 L256.9,697.0 L257.3,701.5 L257.7,702.5 L258.1,701.4 L258.4,703.7 L258.8,706.6 L259.2,708.1 L259.6,710.4 L259.9,710.1 L260.3,713.1 L260.7,714.0 L261.1,714.2 L261.4,716.8 L261.8,719.3 L262.1,720.7 L262.4,721.2 L262.8,723.0 L263.1,722.8 L263.4,725.0 L263.7,728.5 L264.0,728.8 L264.4,729.5 L264.7,732.4 L265.0,734.5 L265.3,736.0 L265.7,736.5 L266.0,738.3 L266.3,740.1 L266.6,742.6 L266.9,743.3 L267.3,744.5 L267.6,746.4 L267.9,745.8 L268.6,744.4 L269.2,745.9 L269.9,745.8 L270.6,742.4 L271.2,740.0 L271.9,737.5 L272.6,737.5 L273.2,738.2 L273.9,735.8 L274.6,733.2 L275.2,733.2 L275.9,728.8 L276.5,728.5 L277.1,728.9 L277.7,725.7 L278.2,723.7 L278.8,721.3 L279.4,721.0 L280.0,721.3 L280.6,715.6 L281.2,717.4 L281.8,716.1 L282.4,714.8 L282.9,712.6 L283.5,711.4 L284.1,708.6 L284.7,707.5 L286.0,705.9 L287.4,702.5 L288.7,708.5 L290.0,705.5 L291.5,703.3 L292.9,706.4 L294.4,706.9 L295.9,706.5 L297.3,707.1 L298.8,709.2 L299.4,711.0 L300.1,712.4 L300.7,713.2 L301.4,712.6 L302.0,715.0 L302.7,716.2 L303.3,719.6 L304.0,722.3 L304.6,723.5 L305.3,724.9 L305.9,726.3 L306.4,722.5 L306.9,723.5 L307.3,721.3 L307.8,717.5 L308.3,715.8 L308.8,714.3 L309.3,715.9 L309.8,712.3 L310.2,710.3 L310.7,711.0 L311.2,708.2 L312.0,708.0 L312.7,709.8 L313.5,713.0 L314.2,712.4 L315.0,714.2 L315.7,717.8 L316.5,717.8 L317.0,718.8 L317.4,721.0 L317.9,720.7 L318.4,723.7 L318.8,725.4 L319.3,726.0 L319.8,727.2 L320.2,731.8 L320.7,731.8 L321.2,732.2 L321.6,735.3 L322.1,737.6 L322.6,736.0 L323.0,737.6 L323.5,739.8 L323.8,740.2 L324.1,736.7 L324.5,737.0 L324.8,735.3 L325.1,733.3 L325.4,730.6 L325.8,731.6 L326.1,729.4 L326.4,726.9 L326.7,724.4 L327.0,724.2 L327.4,721.8 L327.7,720.8 L328.0,718.1 L328.8,721.0 L329.5,719.5 L330.2,722.1 L331.0,726.9 L331.8,727.8 L332.5,726.3 L333.2,730.5 L334.0,728.4 L335.5,733.4 L337.1,731.5 L338.6,728.4 L340.1,726.8 L341.6,724.5 L343.2,731.4 L344.7,725.9 L345.3,727.9 L346.0,727.0 L346.6,723.7 L347.2,720.3 L347.9,721.9 L348.5,720.9 L349.2,718.1 L349.8,715.7 L350.4,713.5 L351.1,711.9 L351.7,709.1 L352.9,710.9 L354.1,708.1 L355.2,705.3 L356.4,703.5 L357.6,705.8 L358.8,701.9 L360.2,704.2 L361.6,703.5 L363.1,708.5 L364.5,709.4 L365.9,703.0 L367.6,704.5 L369.4,705.6 L371.1,711.1 L372.9,708.5 L373.8,707.5 L374.7,708.2 L375.5,712.2 L376.4,714.4 L377.3,716.4 L378.2,714.5 L379.1,718.9 L379.9,719.2 L380.8,719.5 L381.7,723.3 L382.3,721.2 L383.0,725.0 L383.6,723.4 L384.3,725.3 L384.9,730.2 L385.6,728.4 L386.2,732.4 L386.9,733.1 L387.5,735.7 L388.2,734.9 L388.8,736.3 L389.4,737.5 L390.1,741.6 L390.7,741.8 L391.4,744.9 L392.0,746.1 L392.7,744.0 L393.3,747.4 L394.0,746.8 L394.6,747.9 L395.3,749.6 L395.9,754.8 L396.6,755.9 L397.4,757.6 L398.1,756.7 L398.8,759.6 L399.6,761.9 L400.3,761.6 L400.6,760.7 L400.9,758.0 L401.2,756.0 L401.5,755.1 L401.8,755.6 L402.1,753.0 L402.4,752.7 L402.6,749.6 L402.9,747.5 L403.2,747.6 L403.5,746.2 L403.8,742.0 L404.1,742.6 L404.4,739.2 L404.7,736.7 L405.7,740.0 L406.6,733.7 L407.6,733.6 L408.6,736.8 L409.5,732.2 L410.5,729.1 L411.4,728.1 L412.4,727.3 L413.4,729.0 L414.3,723.9 L415.3,727.3 L416.2,723.0 L417.1,725.1 L417.9,723.5 L418.8,718.7 L419.7,717.2 L420.6,717.2 L421.5,713.8 L422.4,715.7 L423.2,710.9 L424.1,709.5 L425.0,713.6 L425.9,711.3 L426.8,714.4 L427.7,715.0 L428.5,715.7 L429.4,715.8 L430.3,721.8 L431.2,723.3 L431.9,724.7 L432.6,721.9 L433.2,723.8 L433.9,727.1 L434.6,730.3 L435.3,729.5 L435.9,731.6 L436.6,732.9 L437.3,732.3 L438.0,735.0 L438.6,735.3 L439.3,736.4 L440.0,736.8 L440.8,736.4 L441.6,738.6 L442.4,734.4 L443.2,734.0 L444.0,732.5 L444.8,732.5 L445.6,728.3 L446.4,726.4 L447.2,725.0 L448.0,723.5 L448.8,724.7 L449.5,723.5 L450.2,719.1 L451.0,717.8 L451.7,717.4 L452.4,716.1 L453.1,714.7 L453.8,711.6 L454.5,709.0 L455.3,708.7 L456.0,706.4 L456.7,707.3 L457.6,705.7 L458.5,707.0 L459.4,711.5 L460.3,710.7 L461.1,714.8 L462.0,714.3 L462.9,717.7 L463.8,714.8 L464.7,718.0 L465.5,721.0 L466.2,718.9 L467.0,724.7 L467.8,722.4 L468.5,726.9 L469.3,729.4 L470.0,730.1 L470.8,729.1 L471.6,726.5 L472.4,727.1 L473.1,727.6 L473.9,723.0 L474.7,724.5 L475.4,719.2 L476.2,721.5 L477.0,716.0 L477.6,718.8 L478.2,722.9 L478.8,724.0 L479.4,726.0 L479.9,727.3 L480.5,728.4 L481.1,729.7 L481.7,729.1 L482.3,731.6 L483.2,728.7 L484.1,730.4 L485.0,728.8 L485.9,725.1 L486.7,722.7 L487.6,726.3 L488.5,724.1 L489.4,721.2 L490.0,719.7 L490.6,719.6 L491.1,716.4 L491.7,714.7 L492.3,713.0 L492.9,711.2 L493.5,708.7 L494.1,710.0 L494.6,707.5 L495.2,706.7 L495.8,703.0 L496.4,702.9 L497.0,700.4 L497.6,698.9 L498.2,698.0 L498.8,699.1 L499.4,695.8 L499.9,694.3 L500.5,693.8 L501.1,690.6 L501.7,688.2 L502.3,689.0 L502.9,687.5 L503.5,686.6 L504.1,684.2 L504.7,683.7 L505.3,682.3 L505.9,678.6 L506.4,678.2 L507.0,676.6 L507.6,673.9 L508.2,673.2 L508.8,672.2 L509.2,671.9 L509.6,670.4 L510.0,666.4 L510.4,666.2 L510.9,662.4 L511.3,660.9 L511.7,660.9 L512.1,660.7 L512.5,656.5 L512.9,657.1 L513.3,655.9 L513.7,652.2 L514.2,652.1 L514.6,651.0 L515.0,647.7 L515.4,647.3 L515.8,645.9 L516.2,643.9 L516.7,643.4 L517.1,642.0 L517.6,640.8 L518.0,637.8 L518.5,634.7 L518.9,633.5 L519.3,631.9 L519.8,631.8 L520.2,631.0 L520.7,626.8 L521.1,627.7 L521.6,626.3 L522.0,623.4 L522.5,622.6 L522.9,619.9 L523.2,620.2 L523.4,616.5 L523.7,617.9 L524.0,615.8 L524.2,613.7 L524.5,611.0 L524.8,611.5 L525.1,610.2 L525.3,606.0 L525.6,606.5 L525.9,605.2 L526.1,603.0 L526.4,602.0 L527.1,599.3 L527.8,600.3 L528.5,599.1 L529.2,594.8 L529.9,595.5 L530.6,592.3 L531.3,589.5 L532.1,588.9 L532.8,586.6 L533.5,589.0 L534.2,587.9 L534.9,582.3 L535.6,583.3 L536.3,580.9 L537.0,578.2 L537.7,577.5 L538.4,575.8 L539.1,576.7 L539.8,571.6 L540.5,571.0 L541.2,570.7 L541.9,567.3 L542.7,568.7 L543.4,567.1 L544.1,566.7 L544.8,562.2 L545.5,561.0 L546.2,560.8 L546.9,558.0 L547.6,557.9 L548.1,555.1 L548.6,555.3 L549.0,554.2 L549.5,552.7 L550.0,551.9 L550.5,548.6 L551.0,546.9 L551.5,546.8 L551.9,544.9 L552.4,542.6 L552.9,540.3 L553.4,538.4 L553.9,536.2 L554.3,537.4 L554.8,533.2 L555.3,534.2 L555.8,531.8 L556.3,532.0 L556.8,529.6 L557.2,528.9 L557.7,524.1 L558.2,524.0 L558.6,522.7 L559.1,520.2 L559.5,519.4 L560.0,517.3 L560.4,516.4 L560.9,512.9 L561.3,513.0 L561.8,511.5 L562.2,509.4 L562.6,508.2 L563.1,508.2 L563.5,506.3 L564.0,504.0 L564.4,503.0 L564.9,500.5 L565.3,498.4 L565.7,496.1 L566.0,495.6 L566.4,495.2 L566.7,494.6 L567.1,492.9 L567.4,490.3 L567.8,490.4 L568.1,487.1 L568.5,486.8 L568.8,483.8 L569.2,483.5 L569.5,482.8 L569.9,478.9 L570.2,476.9 L570.6,477.0 L571.1,475.0 L571.7,472.7 L572.2,469.7 L572.7,469.7 L573.2,468.2 L573.8,466.6 L574.3,466.8 L574.8,464.1 L575.4,463.1 L575.9,462.4 L576.5,460.3 L577.2,457.7 L577.8,457.4 L578.4,455.5 L579.1,454.1 L579.7,452.5 L580.4,450.1 L581.0,449.6 L581.6,448.2 L582.3,448.2 L582.9,446.0 L583.5,444.9 L584.2,443.1 L584.8,441.8 L585.5,439.4 L586.1,436.8 L586.8,434.9 L587.4,435.6 L588.1,434.9 L588.7,431.9 L589.4,428.6 L590.0,430.7 L590.9,427.4 L591.8,426.0 L592.6,422.3 L593.5,423.6 L594.4,423.6 L595.3,420.5 L596.2,418.8 L597.1,419.1 L598.0,414.3 L598.8,415.7 L599.7,416.8 L600.6,413.9 L601.4,414.0 L602.1,416.9 L602.9,418.0 L603.6,417.6 L604.4,419.1 L605.1,423.9 L605.9,422.2 L606.8,419.8 L607.7,422.7 L608.6,419.7 L609.5,417.5 L610.3,417.0 L611.2,417.0 L612.1,412.4 L613.0,413.5 L613.4,412.3 L613.7,411.1 L614.1,407.7 L614.4,407.4 L614.8,404.5 L615.1,404.2 L615.5,401.3 L615.9,402.0 L616.2,400.8 L616.6,397.4 L616.9,395.5 L617.3,397.7 L618.3,397.6 L619.3,399.7 L620.3,396.4 L621.3,402.8 L622.3,402.5 L623.3,402.1 L624.3,404.1 L625.3,407.1 L625.9,408.6 L626.5,407.3 L627.1,410.7 L627.7,410.0 L628.3,415.1 L629.0,414.1 L629.6,417.7 L630.2,418.2 L630.8,419.1 L631.4,418.3 L632.7,419.3 L634.1,415.6 L635.4,414.7 L636.7,418.1 L638.1,414.6 L639.4,416.2 L640.3,412.0 L641.2,413.6 L642.0,412.4 L642.9,408.8 L643.8,406.5 L644.7,407.0 L645.7,408.7 L646.7,407.5 L647.6,409.2 L648.6,409.6 L649.6,414.1 L650.6,417.0 L651.5,414.1 L652.5,414.2 L653.5,419.4 L654.5,418.6 L655.5,418.1 L656.4,414.8 L657.4,411.8 L658.4,413.3 L659.4,407.8 L660.3,409.7 L661.3,404.9 L662.3,405.2 L663.6,405.0 L664.9,403.2 L666.3,400.8 L667.6,400.4 L668.9,403.8 L670.2,400.3 L671.6,400.3 L672.9,397.0 L673.9,398.9 L674.9,395.4 L675.8,395.8 L676.8,396.6 L677.8,395.9 L678.8,389.0 L679.7,392.4 L680.7,391.6 L681.7,387.5 L682.1,386.2 L682.5,385.4 L683.0,385.1 L683.4,381.6 L683.8,381.9 L684.2,379.8 L684.6,376.0 L685.0,377.3 L685.5,372.4 L685.9,371.3 L686.3,371.7 L686.7,367.9 L687.1,367.6 L687.5,365.1 L688.0,364.8 L688.4,364.6 L688.8,365.1 L690.5,357.5 L692.3,357.1 L694.0,361.8 L694.8,358.9 L695.6,361.4 L696.4,361.9 L697.1,363.1 L697.9,364.1 L698.7,368.7 L699.5,370.6 L700.3,371.3 L700.7,370.3 L701.1,368.1 L701.4,365.6 L701.8,364.9 L702.2,364.6 L702.6,361.9 L703.0,358.9 L703.3,356.7 L703.7,358.3 L704.1,355.6 L704.5,353.1 L704.9,352.5 L705.3,350.8 L705.6,349.2 L706.0,345.9 L706.4,345.3 L707.0,347.0 L707.7,347.5 L708.3,352.1 L709.0,351.4 L709.6,353.9 L710.3,355.6 L710.9,357.2 L711.6,358.5 L712.2,360.1 L712.9,359.2 L713.5,364.3 L714.4,361.4 L715.3,367.0 L716.1,368.1 L717.0,369.6 L717.9,366.7 L718.8,369.2 L719.1,373.2 L719.4,373.5 L719.7,374.7 L720.1,378.3 L720.4,376.6 L720.7,379.8 L721.0,381.0 L721.3,381.5 L721.6,383.9 L721.9,386.4 L722.3,388.5 L722.6,387.2 L722.9,390.4 L723.2,389.8 L723.9,391.9 L724.6,387.0 L725.3,385.4 L726.0,385.7 L726.6,386.1 L727.3,382.6 L728.0,380.3 L728.7,382.2 L729.4,380.9 L730.2,379.6 L730.9,375.4 L731.7,374.5 L732.4,372.1 L733.2,372.1 L733.9,369.5 L734.7,368.1 L735.2,368.5 L735.7,367.7 L736.2,364.7 L736.7,361.2 L737.2,362.0 L737.8,359.7 L738.3,360.4 L738.8,357.8 L739.3,356.8 L739.8,354.8 L740.3,352.6 L740.8,352.2 L741.0,353.6 L741.3,353.5 L741.5,354.7 L741.8,356.9 L742.0,359.0 L742.3,359.2 L742.5,361.6 L742.8,363.9 L743.0,363.8 L743.3,367.7 L743.5,368.8 L743.8,369.4 L744.0,370.9 L744.3,372.6 L744.5,374.1 L744.8,377.0 L745.0,377.8 L745.3,379.5 L745.9,379.2 L746.6,384.2 L747.2,382.9 L747.8,384.4 L748.5,384.6 L749.1,390.3 L749.8,389.4 L750.4,392.9 L751.0,394.4 L751.7,396.0 L752.3,396.6 L752.8,398.5 L753.3,400.0 L753.7,401.0 L754.2,399.8 L754.7,402.9 L755.2,404.6 L755.6,407.7 L756.1,408.4 L756.6,409.5 L757.1,411.2 L757.5,411.2 L758.0,415.0 L758.5,415.2 L758.8,415.9 L759.2,417.7 L759.5,421.1 L759.9,421.1 L760.2,421.4 L760.6,422.9 L760.9,426.4 L761.3,427.5 L761.6,430.3 L761.9,429.3 L762.3,431.7 L762.6,434.4 L763.0,433.6 L763.3,435.3 L763.7,438.4 L764.0,439.0 L764.4,440.1 L764.7,442.2 L765.1,445.0 L765.4,446.3 L765.8,446.3 L766.1,447.9 L766.5,452.1 L766.8,453.0 L767.2,453.0 L767.5,456.9 L767.9,455.6 L768.2,458.4 L768.6,461.6 L768.9,462.7 L769.2,462.9 L769.6,466.5 L770.0,467.1 L770.3,469.6 L770.7,471.3 L771.0,471.3 L771.4,473.7 L771.7,474.9 L772.1,477.9 L772.5,478.9 L772.9,480.2 L773.3,482.1 L773.7,484.4 L774.1,483.2 L774.5,484.6 L774.9,488.2 L775.2,489.8 L775.6,490.5 L776.0,491.9 L776.4,493.2 L776.8,496.5 L777.2,497.8 L777.6,498.6 L778.0,498.2 L778.4,502.7 L778.8,502.9 L779.1,503.6 L779.3,505.5 L779.6,508.3 L779.9,507.7 L780.2,509.7 L780.4,511.8 L780.7,515.3 L781.0,516.4 L781.3,518.7 L781.5,518.9 L781.8,520.6 L782.1,522.1 L782.4,523.6 L782.6,525.2 L782.9,527.7 L783.2,529.7 L783.5,529.6 L783.7,531.8 L784.0,532.4 L784.2,534.0 L784.4,536.2 L784.7,538.1 L784.9,539.6 L785.1,542.5 L785.3,541.7 L785.6,544.7 L785.8,547.4 L786.0,548.2 L786.2,549.3 L786.4,550.3 L786.7,552.0 L786.9,555.2 L787.1,556.7 L787.3,557.7 L787.6,560.0 L787.8,561.6 L788.0,563.0 L788.2,563.2 L788.4,565.1 L788.6,567.6 L788.8,567.9 L789.1,570.6 L789.3,571.4 L789.5,572.6 L789.7,574.5 L789.9,575.1 L790.1,577.4 L790.3,579.1 L790.5,579.5 L790.7,581.6 L790.9,583.4 L791.2,586.7 L791.4,587.5 L791.6,588.2 L791.8,591.9 L792.0,591.2 L792.3,593.6 L792.7,595.9 L793.0,597.2 L793.3,597.9 L793.7,600.6 L794.0,601.1 L794.3,603.4 L794.7,604.2 L795.0,607.4 L795.4,608.0 L795.7,607.4 L796.0,609.1 L796.4,613.5 L796.7,612.5 L797.0,613.3 L797.4,615.6 L797.7,617.9 L798.1,621.3 L798.6,620.8 L799.0,623.6 L799.4,625.6 L799.9,624.3 L800.3,627.9 L800.8,630.9 L801.2,630.8 L801.6,632.3 L802.1,633.2 L802.5,637.1 L802.9,638.7 L803.4,637.0 L803.8,640.3 L804.3,641.4 L804.7,643.9 L805.1,643.4 L805.6,645.5 L806.0,647.2 L806.4,649.5 L806.8,652.1 L807.1,653.9 L807.5,655.2 L807.9,656.4 L808.3,655.8 L808.6,658.4 L809.0,661.0 L809.4,661.2 L809.8,663.5 L810.2,666.4 L810.5,665.1 L810.9,669.3 L811.3,668.2 L811.7,670.7 L812.1,674.2 L812.4,673.2 L812.8,675.9 L813.2,677.0 L813.6,680.3 L813.9,682.2 L814.3,681.2 L814.7,683.5 L815.1,686.5 L815.6,686.7 L816.0,686.9 L816.5,690.5 L816.9,690.4 L817.3,692.4 L817.8,692.1 L818.2,697.4 L818.7,697.6 L819.1,700.1 L819.5,701.8 L820.0,700.6 L820.4,703.2 L820.9,704.3 L821.3,707.0 L821.7,708.8 L822.2,707.9 L822.6,709.6 L823.1,712.8 L823.5,713.1 L824.0,713.6 L824.5,715.4 L824.9,718.4 L825.4,720.1 L825.9,723.1 L826.4,723.0 L826.9,724.8 L827.4,724.6 L827.8,727.2 L828.3,728.2 L828.8,731.4 L829.3,731.3 L829.8,732.6 L830.3,734.8 L830.7,736.8 L831.2,737.8 L831.7,740.5 L832.4,739.8 L833.1,744.7 L833.9,745.1 L834.6,745.7 L835.3,744.7 L836.0,747.4 L836.7,750.6 L837.5,751.7 L838.2,753.9 L838.9,755.7 L839.6,754.2 L840.3,756.5 L841.0,757.0 L841.8,757.4 L842.5,758.8 L843.2,761.0 L843.7,758.8 L844.3,759.2 L844.8,758.5 L845.3,756.4 L845.9,755.5 L846.4,752.0 L846.9,750.5 L847.5,750.6 L848.0,750.4 L848.5,747.0 L849.1,743.8 L849.6,742.4 L850.1,742.1 L850.7,742.0 L851.2,738.8 L851.4,737.6 L851.6,737.4 L851.8,736.7 L852.0,733.3 L852.3,732.5 L852.5,730.7 L852.7,727.7 L852.9,727.0 L853.1,724.9 L853.3,723.7 L853.5,723.6 L853.7,721.8 L854.0,718.4 L854.2,716.9 L854.4,717.3 L854.6,713.9 L854.8,712.9 L855.0,711.2 L855.2,709.0 L855.4,707.4 L855.7,706.2 L855.9,705.4 L856.1,705.4 L856.3,703.0 L856.5,700.2 L856.7,699.9 L856.9,697.1 L857.1,696.2 L857.3,694.1 L857.6,694.3 L857.8,690.9 L858.0,690.6 L858.2,688.6 L858.4,687.5 L858.6,685.2 L858.8,684.4 L859.0,681.4 L859.3,680.6 L859.5,678.9 L859.7,677.0 L859.9,675.5 L860.1,673.8 L860.3,671.8 L860.5,671.6 L860.7,669.3 L861.0,667.4 L861.2,664.4 L861.4,664.1 L861.6,661.5 L861.8,660.0 L862.0,659.1 L862.2,657.8 L862.4,655.3 L862.7,653.8 L862.9,652.9 L863.1,651.1 L863.3,649.3 L863.5,646.9 L863.7,646.1 L863.9,645.3 L864.1,643.4 L864.3,641.8 L864.4,641.1 L864.6,639.2 L864.8,637.5 L865.0,634.1 L865.2,633.3 L865.4,632.8 L865.6,629.7 L865.8,630.3 L866.0,626.5 L866.1,627.1 L866.3,623.6 L866.5,623.8 L866.7,622.3 L866.9,619.2 L867.1,619.3 L867.3,615.6 L867.5,616.0 L867.7,613.1 L867.9,611.7 L868.0,609.2 L868.2,609.0 L868.4,606.5 L868.6,606.0 L868.8,604.9 L869.0,602.7 L869.2,599.5 L869.4,600.6 L869.5,598.9 L869.7,596.5 L869.9,594.2 L870.1,593.2 L870.3,592.5 L870.5,589.7 L870.7,589.1 L870.8,587.0 L871.0,584.9 L871.2,584.8 L871.4,581.7 L871.6,580.7 L871.8,577.6 L872.0,577.2 L872.1,574.4 L872.3,574.7 L872.5,571.2 L872.7,569.7 L872.9,568.3 L873.1,566.8 L873.3,566.3 L873.4,564.3 L873.6,562.5 L873.8,562.9 L874.0,561.0 L874.1,558.8 L874.2,557.5 L874.2,556.0 L874.3,553.0 L874.4,552.7 L874.5,549.8 L874.6,549.0 L874.6,546.9 L874.7,544.8 L874.8,544.7 L874.9,543.4 L875.0,540.4 L875.0,540.1 L875.1,537.2 L875.2,536.4 L875.3,535.6 L875.4,533.5 L875.4,530.1 L875.5,529.4 L875.6,527.7 L875.7,525.9 L875.8,525.6 L875.8,523.1 L875.9,522.1 L876.0,520.4 L876.2,518.5 L876.4,515.6 L876.6,515.7 L876.8,514.8 L877.0,511.1 L877.1,510.9 L877.3,508.8 L877.5,506.8 L877.7,506.3 L877.9,505.5 L878.1,501.2 L878.3,502.1 L878.5,499.0 L878.7,498.7 L878.9,495.2 L879.1,495.2 L879.2,491.9 L879.4,490.9 L879.6,491.2 L879.8,488.7 L880.0,487.5 L880.2,484.9 L880.4,483.4 L880.6,481.9 L880.8,481.1 L881.0,479.3 L881.2,476.2 L881.4,475.4 L881.5,474.1 L881.7,472.6 L881.9,472.0 L882.1,470.1 L882.3,466.6 L882.5,465.6 L882.8,463.2 L883.0,461.4 L883.3,460.0 L883.5,458.7 L883.8,459.0 L884.0,457.1 L884.3,455.9 L884.6,452.8 L884.8,450.8 L885.1,451.8 L885.3,449.7 L885.6,448.5 L885.8,444.1 L886.1,443.7 L886.4,442.8 L886.6,441.6 L886.9,440.6 L887.1,437.8 L887.4,435.8 L887.6,433.0 L887.9,433.9 L888.2,432.9 L888.4,431.1 L888.7,428.8 L888.9,426.2 L889.2,424.3 L889.4,424.4 L889.7,423.4 L890.0,422.0 L890.3,417.8 L890.6,417.6 L890.9,415.8 L891.2,413.9 L891.5,413.6 L891.8,412.5 L892.1,410.2 L892.4,408.6 L892.7,407.0 L893.0,405.3 L893.3,403.3 L893.6,400.8 L894.0,401.0 L894.3,397.3 L894.6,397.4 L894.9,395.0 L895.2,394.0 L895.5,392.7 L895.8,390.6 L896.1,390.7 L896.4,386.7 L896.7,384.4 L897.0,386.0 L897.3,382.3 L897.6,380.6 L897.9,379.5 L898.2,378.6 L898.8,378.8 L899.4,376.1 L900.0,372.8 L900.5,372.2 L901.1,370.3 L901.7,369.0 L902.3,367.2 L902.9,364.5 L903.5,364.0 L904.1,362.4 L904.7,360.1 L905.2,361.3 L905.8,357.7 L906.4,355.3 L907.0,355.7 L908.0,356.1 L909.0,354.5 L910.0,352.3 L911.0,351.7 L911.9,348.0 L912.9,345.6 L913.9,345.0 L914.9,344.4 L915.9,342.7 L916.8,342.6 L917.7,339.5 L918.6,338.2 L919.5,337.7 L920.4,336.1 L921.3,338.4 L922.2,335.7 L923.1,332.5 L924.0,332.7 L924.5,336.0 L924.9,336.3 L925.4,337.7 L925.9,338.6 L926.4,339.3 L926.8,342.5 L927.3,341.8 L927.8,346.1 L928.2,344.7 L928.7,349.0 L929.2,349.0 L929.7,351.7 L930.1,352.9 L930.6,352.5 L931.1,355.7 L931.6,355.3 L932.0,357.5 L932.5,359.6 L932.9,360.8 L933.2,363.7 L933.6,366.4 L934.0,365.7 L934.3,368.9 L934.7,368.3 L935.1,371.6 L935.4,371.8 L935.8,374.0 L936.2,374.0 L936.5,378.2 L936.9,377.5 L937.3,380.0 L937.7,380.9 L938.0,384.3 L938.4,385.1 L938.8,386.7 L939.1,388.7 L939.5,388.5 L939.9,389.3 L940.2,393.6 L940.6,393.3 L941.0,396.7 L941.4,398.8 L941.8,399.2 L942.2,398.9 L942.5,403.1 L942.9,403.9 L943.3,404.1 L943.7,405.5 L944.1,408.2 L944.5,408.4 L944.9,412.8 L945.3,413.6 L945.7,415.6 L946.0,415.6 L946.4,419.1 L946.8,417.8 L947.2,421.5 L947.6,421.4 L948.0,421.9 L948.4,423.9 L948.9,425.7 L949.3,429.3 L949.7,429.4 L950.1,431.3 L950.6,433.3 L951.0,433.5 L951.4,436.4 L951.8,438.0 L952.3,440.5 L952.7,440.4 L953.1,443.3 L953.5,445.2 L954.0,446.0 L954.4,446.2 L954.8,447.1 L955.2,447.9 L955.7,452.2 L956.1,451.1 L956.5,454.2 L956.9,455.4 L957.3,455.5 L957.7,457.7 L958.1,461.5 L958.4,462.0 L958.8,465.0 L959.2,466.5 L959.6,465.1 L960.0,468.8 L960.4,468.1 L960.8,471.0 L961.2,472.7 L961.6,476.1 L961.9,476.4 L962.3,476.5 L962.7,479.2 L963.1,480.8 L963.5,481.2 L963.9,483.4 L964.3,486.8 L964.7,488.8 L965.1,489.6 L965.5,488.6 L965.9,493.2 L966.3,493.2 L966.7,496.1 L967.0,495.3 L967.4,496.7 L967.8,501.1 L968.2,500.4 L968.6,501.1 L969.0,504.3 L969.4,507.7 L969.8,508.7 L970.2,508.7 L970.6,512.5 L971.0,513.2 L971.5,514.9 L971.9,515.7 L972.4,516.2 L972.8,519.7 L973.2,519.5 L973.7,522.8 L974.1,522.8 L974.6,525.7 L975.0,525.5 L975.4,526.8 L975.9,528.9 L976.3,529.4 L976.8,530.2 L977.2,533.4 L977.6,536.0 L978.1,535.2 L978.5,539.0 L979.0,540.2 L979.4,541.6 L979.8,541.9 L980.2,545.6 L980.6,546.4 L981.0,547.2 L981.5,547.1 L981.9,550.4 L982.3,549.9 L982.7,554.8 L983.1,554.3 L983.5,556.0 L983.9,558.2 L984.4,560.2 L984.8,561.5 L985.2,562.8 L985.6,564.9 L986.0,567.1 L986.2,567.4 L986.5,569.1 L986.7,571.6 L986.9,570.7 L987.2,572.7 L987.4,574.7 L987.7,575.9 L987.9,579.5 L988.1,578.8 L988.4,580.2 L988.6,582.4 L988.8,584.5 L989.1,587.0 L989.3,589.1 L989.6,590.2 L989.8,591.0 L990.0,590.8 L990.3,592.4 L990.5,595.8 L990.9,598.0 L991.3,597.5 L991.7,601.6 L992.0,601.6 L992.4,603.2 L992.8,604.9 L993.2,604.5 L993.6,606.4 L994.0,610.7 L994.4,609.8 L994.8,610.7 L995.1,612.9 L995.5,616.1 L995.9,615.9 L996.3,617.3 L996.7,619.0 L997.1,621.3 L997.5,623.8 L997.9,623.7 L998.2,627.4 L998.6,629.3 L999.0,630.2 L999.4,629.2 L999.7,631.6 L1000.0,635.2 L1000.4,636.6 L1000.7,635.8 L1001.0,638.4 L1001.3,639.8 L1001.6,642.7 L1001.9,641.9 L1002.3,644.4 L1002.6,647.5 L1002.9,649.5 L1003.2,648.3 L1003.5,651.8 L1003.9,653.6 L1004.2,655.9 L1004.5,656.0 L1004.8,659.5 L1005.1,658.5 L1005.4,659.8 L1005.8,661.5 L1006.1,664.6 L1006.4,664.5 L1006.8,666.6 L1007.2,667.9 L1007.6,669.0 L1008.0,673.8 L1008.4,673.1 L1008.8,677.0 L1009.2,677.6 L1009.6,677.4 L1010.0,681.5 L1010.3,679.7 L1010.7,684.8 L1011.1,682.9 L1011.5,685.3 L1011.9,687.9 L1012.3,687.5 L1012.7,691.8 L1013.1,690.9 L1013.5,695.7 L1014.3,692.9 L1015.1,696.9 L1015.9,696.6 L1016.8,698.4 L1017.6,700.8 L1018.4,701.6 L1019.2,703.1 L1020.0,705.5 L1020.4,705.5 L1020.7,707.0 L1021.1,710.4 L1021.5,710.6 L1021.8,714.4 L1022.2,714.2 L1022.6,716.0 L1022.9,715.9 L1023.3,717.5 L1023.7,719.4 L1024.1,722.8 L1024.4,724.5 L1024.8,727.1 L1025.2,726.9 L1025.5,729.4 L1025.9,729.7 L1026.3,730.3 L1026.6,733.1 L1027.0,735.7 L1027.3,737.6 L1027.6,739.7 L1027.9,740.9 L1028.2,741.6 L1028.5,743.1 L1028.8,744.6 L1029.1,746.1 L1029.4,748.4 L1029.7,749.6 L1030.0,752.1 L1030.3,752.4 L1030.7,754.1 L1031.0,756.8 L1031.3,757.9 L1031.6,759.0 L1031.9,760.7 L1032.2,763.1 L1032.5,764.1 L1032.8,764.5 L1033.1,766.3 L1033.4,768.9 L1033.7,768.6 L1034.0,771.6 L1034.3,774.6 L1034.7,774.0 L1035.0,776.3 L1035.4,778.7 L1035.8,781.1 L1036.1,781.9 L1036.5,783.3 L1036.8,784.0 L1037.2,785.8 L1037.5,788.1 L1037.8,788.7 L1038.2,791.8 L1038.5,790.7 L1038.9,794.8 L1039.2,796.4 L1039.6,796.5 L1040.0,797.1 L1040.3,799.8 L1040.7,802.2 L1041.0,804.5 L1041.3,806.3 L1041.7,805.7 L1042.0,806.9 L1042.3,808.6 L1042.7,813.1 L1043.0,813.5 L1043.3,813.4 L1043.6,816.9 L1044.0,819.4 L1044.3,819.8 L1044.6,820.1 L1045.0,824.1 L1045.3,824.8 L1045.6,824.7 L1045.9,828.2 L1046.3,829.0 L1046.6,830.8 L1046.9,831.7 L1047.3,833.0 L1047.6,835.0 L1047.9,837.0 L1048.2,838.3 L1048.5,841.2 L1048.8,840.2 L1049.1,842.1 L1049.4,846.1 L1049.7,846.6 L1050.0,848.2 L1050.3,849.8 L1050.6,850.1 L1050.9,852.2 L1051.2,853.1 L1051.5,854.5 L1051.8,858.8 L1052.1,859.6 L1052.4,861.6 L1052.7,860.3 L1053.0,864.3 L1053.5,864.2 L1054.0,866.5 L1054.4,868.7 L1054.9,867.6 L1055.4,870.5 L1055.9,872.7 L1056.3,875.5 L1056.8,875.6 L1057.3,876.1 L1058.0,876.0 L1058.7,874.5 L1059.4,871.6 L1060.1,871.3 L1060.8,868.6 L1061.5,865.8 L1062.2,865.8 L1062.8,863.3 L1063.5,863.7 L1064.2,862.3 L1064.9,862.6 L1065.6,860.5 L1066.3,859.1 L1067.0,858.2 L1067.4,854.0 L1067.8,852.8 L1068.2,850.7 L1068.6,848.7 L1069.1,848.7 L1069.5,847.1 L1069.9,844.2 L1070.3,845.5 L1070.7,844.2 L1071.1,839.3 L1071.5,837.5 L1071.9,836.1 L1072.4,837.1 L1072.8,836.0 L1073.2,831.5 L1073.6,829.7 L1074.0,830.1 L1074.2,827.9 L1074.5,825.4 L1074.7,823.8 L1075.0,822.9 L1075.2,821.3 L1075.4,820.0 L1075.7,819.2 L1075.9,816.7 L1076.2,815.1 L1076.4,813.5 L1076.6,814.0 L1076.9,810.5 L1077.1,809.9 L1077.4,808.0 L1077.6,806.0 L1077.8,804.7 L1078.1,802.0 L1078.3,800.9 L1078.6,800.7 L1078.8,799.5 L1079.1,796.3 L1079.3,794.6 L1079.5,795.3 L1079.8,791.3 L1080.0,791.8 L1080.3,790.5 L1080.5,786.7 L1080.7,787.3 L1081.0,783.6 L1081.2,781.7 L1081.5,780.9 L1081.7,779.5 L1082.0,778.7 L1082.3,776.6 L1082.6,776.1 L1082.9,774.1 L1083.2,770.8 L1083.5,769.4 L1083.7,769.6 L1084.0,766.0 L1084.3,767.1 L1084.6,765.0 L1084.9,761.5 L1085.2,760.1 L1085.5,758.4 L1085.8,757.4 L1086.1,755.2 L1086.4,752.9 L1086.7,752.0 L1087.0,750.2 L1087.2,749.1 L1087.5,747.9 L1087.8,747.6 L1088.1,745.3 L1088.4,743.6 L1088.7,742.8 L1089.0,739.6 L1089.3,738.2 L1089.6,735.9 L1090.0,736.3 L1090.3,734.9 L1090.6,733.4 L1090.9,730.7 L1091.2,727.5 L1091.6,725.8 L1091.9,726.6 L1092.2,725.3 L1092.5,722.5 L1092.8,722.2 L1093.2,720.6 L1093.5,718.4 L1093.8,715.6 L1094.1,714.3 L1094.4,712.3 L1094.8,710.9 L1095.1,709.5 L1095.4,706.4 L1095.7,705.2 L1096.0,703.7 L1096.4,703.4 L1096.7,702.8 L1097.0,700.6 L1097.2,697.3 L1097.5,696.7 L1097.8,695.6 L1098.0,692.5 L1098.2,690.7 L1098.5,690.7 L1098.8,687.9 L1099.0,687.6 L1099.2,684.5 L1099.5,685.0 L1099.8,681.7 L1100.0,680.5 L1100.2,679.3 L1100.5,678.7 L1100.8,677.2 L1101.0,675.3 L1101.2,673.2 L1101.5,669.7 L1101.8,668.5 L1102.0,668.0 L1102.2,667.7 L1102.5,665.3 L1102.8,662.1 L1103.0,661.0 L1103.2,661.2 L1103.5,658.2 L1103.8,657.7 L1104.0,656.2 L1104.3,654.4 L1104.6,652.3 L1104.9,650.9 L1105.2,648.3 L1105.4,646.0 L1105.7,647.2 L1106.0,642.7 L1106.3,641.9 L1106.6,641.5 L1106.9,641.1 L1107.2,637.1 L1107.5,635.6 L1107.7,636.1 L1108.0,632.8 L1108.3,631.5 L1108.6,629.8 L1108.9,627.3 L1109.2,628.6 L1109.5,626.3 L1109.8,622.5 L1110.0,621.3 L1110.3,619.8 L1110.6,619.1 L1110.9,619.2 L1111.2,615.1 L1111.6,613.8 L1112.0,612.6 L1112.4,611.8 L1112.8,611.7 L1113.3,608.8 L1113.7,608.6 L1114.1,605.7 L1114.5,603.7 L1114.9,603.8 L1115.3,601.2 L1115.7,599.2 L1116.1,597.8 L1116.6,595.7 L1117.0,594.4 L1117.4,591.5 L1117.8,590.5 L1118.2,591.1 L1118.7,586.9 L1119.3,585.8 L1119.8,584.1 L1120.4,583.4 L1120.9,580.6 L1121.5,580.5 L1122.0,580.0 L1122.6,578.8 L1123.1,578.1 L1123.7,573.3 L1124.2,574.2 L1124.8,570.8 L1125.3,569.6 L1126.4,570.0 L1127.5,570.6 L1128.6,568.4 L1129.7,569.3 L1130.7,561.9 L1131.8,562.7 L1132.9,562.7 L1134.0,558.6 L1135.1,557.6 L1136.2,558.6 L1137.4,558.8 L1138.5,554.9 L1139.6,553.4 L1140.8,554.0 L1141.9,555.7 L1143.0,553.2 L1143.4,556.4 L1143.8,556.5 L1144.2,559.1 L1144.6,559.5 L1144.9,560.7 L1145.3,562.0 L1145.7,562.3 L1146.1,563.9 L1146.5,567.6 L1146.9,569.9 L1147.3,568.4 L1147.7,570.5 L1148.1,572.6 L1148.4,574.1 L1148.8,577.5 L1149.2,577.0 L1149.6,578.7 L1150.0,580.9 L1150.9,584.9 L1151.8,582.8 L1152.6,586.0 L1153.5,584.3 L1154.4,587.8 L1155.3,591.9 L1156.2,589.5 L1157.0,591.7 L1157.9,594.7 L1158.8,595.6 L1159.3,597.1 L1159.8,598.8 L1160.3,600.5 L1160.8,600.6 L1161.3,602.2 L1161.8,603.9 L1162.3,605.9 L1162.9,607.6 L1163.4,610.4 L1163.9,609.9 L1164.4,611.7 L1164.9,614.8 L1165.4,616.8 L1165.9,615.3 L1166.4,618.9 L1167.0,618.3 L1167.5,621.9 L1168.1,620.4 L1168.6,623.9 L1169.2,625.7 L1169.7,627.7 L1170.3,630.2 L1170.8,631.2 L1171.4,631.7 L1171.9,632.9 L1172.5,632.3 L1173.0,636.3 L1174.5,636.4 L1176.0,637.9 L1177.5,633.1 L1179.0,636.6 L1180.5,632.1 L1182.0,637.8 L1183.5,637.4 L1184.1,637.1 L1184.8,639.7 L1185.4,641.0 L1186.1,640.8 L1186.7,641.2 L1187.4,645.8 L1188.0,645.4 L1188.7,645.9 L1189.3,648.6 L1190.0,651.9 L1190.6,654.0 L1191.3,653.6 L1192.1,657.0 L1192.8,654.6 L1193.5,657.6 L1194.3,656.7 L1195.0,659.3 L1195.7,663.9 L1196.5,661.4 L1197.2,665.8 L1197.9,666.5 L1198.7,670.3 L1199.4,671.9 L1200.2,668.9 L1201.0,671.0 L1201.7,676.2 L1202.5,674.2 L1203.3,674.8 L1204.1,680.0 L1204.9,679.9 L1205.7,679.8 L1206.4,682.4 L1207.2,683.2 L1208.0,684.8 L1208.7,686.7 L1209.5,686.2 L1210.2,689.9 L1210.9,693.0 L1211.7,692.7 L1212.4,695.1 L1213.1,694.0 L1213.8,694.8 L1214.6,695.5 L1215.3,702.3 L1216.2,698.4 L1217.2,701.1 L1218.1,704.0 L1219.1,705.7 L1220.0,706.2 L1221.0,706.4 L1221.9,709.8 L1222.9,708.8 L1223.8,712.4 L1224.8,709.0 L1225.7,714.2 L1226.7,711.7 L1227.6,714.6 L1228.6,716.1 L1229.6,715.7 L1230.5,718.5 L1231.5,722.2 L1232.5,718.3 L1233.5,720.5 L1234.4,726.5 L1235.4,724.4 L1236.4,725.5 L1236.8,729.0 L1237.3,730.0 L1237.7,729.3 L1238.2,732.5 L1238.6,732.4 L1239.1,736.2 L1239.5,736.9 L1240.0,739.4 L1240.4,738.1 L1240.8,743.0 L1241.3,741.8 L1241.7,745.8 L1242.2,745.7 L1242.6,749.0 L1243.1,747.5 L1243.5,749.0 L1243.9,752.1 L1244.3,755.3 L1244.7,755.2 L1245.1,756.9 L1245.4,757.2 L1245.8,760.1 L1246.2,761.3 L1246.6,764.5 L1247.0,765.6 L1247.4,766.2 L1247.8,766.6 L1248.2,768.1 L1248.6,772.7 L1248.9,772.9 L1249.3,773.1 L1249.7,776.8 L1250.1,776.2 L1250.5,778.6 L1250.9,781.8 L1251.4,780.4 L1251.8,781.9 L1252.3,783.3 L1252.7,785.2 L1253.2,787.6 L1253.6,788.9 L1254.0,790.3 L1254.5,790.8 L1254.9,794.2 L1255.4,795.6 L1255.8,798.2 L1256.3,798.1 L1256.7,800.7 L1257.2,801.2 L1257.6,804.6 L1258.2,803.6 L1258.8,806.5 L1259.4,807.8 L1259.9,809.4 L1260.5,811.3 L1261.1,812.8 L1261.7,813.4 L1262.3,817.1 L1262.9,819.2 L1263.5,819.0 L1264.1,820.9 L1264.6,822.8 L1265.2,822.6 L1265.8,825.3 L1266.4,826.2 L1267.3,827.6 L1268.2,828.5 L1269.1,830.6 L1269.9,830.1 L1270.8,831.6 L1271.7,832.7 L1272.6,836.2 L1273.5,835.6 L1274.3,839.9 L1275.2,841.9 L1276.1,842.4 L1277.0,841.2 L1278.1,846.3 L1279.2,843.5 L1280.3,844.7 L1281.4,847.4 L1282.5,848.9 L1283.6,848.4 L1284.7,852.0 L1285.8,853.2 L1286.8,851.3 L1287.8,852.3 L1288.8,854.7 L1289.8,857.8 L1290.7,859.0 L1291.7,857.5 L1292.7,860.1 L1293.7,864.5 L1294.7,866.0 L1295.6,865.4 L1296.5,867.8 L1297.3,869.4 L1298.2,867.4 L1299.1,867.8 L1300.0,872.2 L1300.9,872.3 L1301.7,875.5 L1302.6,874.5 L1303.5,876.7 L1304.1,876.9 L1304.8,872.2 L1305.4,872.2 L1306.0,869.5 L1306.6,869.8 L1307.3,869.2 L1307.9,868.9 L1308.5,866.4 L1309.2,862.1 L1309.8,862.0 L1310.4,861.0 L1311.0,860.0 L1311.7,858.8 L1312.3,858.3 L1312.8,856.5 L1313.3,852.1 L1313.7,850.3 L1314.2,851.8 L1314.7,847.1 L1315.2,848.6 L1315.7,843.7 L1316.2,843.9 L1316.6,840.6 L1317.1,839.0 L1317.6,838.0 L1318.2,838.6 L1318.9,836.7 L1319.5,833.4 L1320.1,831.1 L1320.7,830.6 L1321.4,828.2 L1322.0,827.0 L1322.6,826.7 L1323.3,825.1 L1323.9,825.6 L1324.5,820.3 L1325.1,820.8 L1325.8,819.4 L1326.4,816.2 L1326.8,815.5 L1327.3,813.1 L1327.7,814.5 L1328.2,810.9 L1328.6,808.2 L1329.1,808.3 L1329.5,806.9 L1330.0,806.8 L1330.4,804.6 L1330.8,801.1 L1331.3,802.3 L1331.7,797.2 L1332.2,798.4 L1332.6,794.3 L1333.1,795.8 L1333.5,792.0 L1333.8,792.4 L1334.1,790.9 L1334.4,789.2 L1334.7,785.4 L1335.0,784.8 L1335.3,782.3 L1335.6,782.7 L1335.9,782.0 L1336.2,778.9 L1336.4,777.8 L1336.7,776.3 L1337.0,773.0 L1337.3,772.1 L1337.6,770.5 L1337.9,770.2 L1338.2,767.6 L1338.5,765.8 L1338.8,764.9 L1339.1,762.2 L1339.3,760.2 L1339.6,759.1 L1339.8,756.9 L1340.1,757.3 L1340.4,755.1 L1340.6,754.0 L1340.9,752.2 L1341.1,749.0 L1341.4,749.8 L1341.7,748.3 L1341.9,744.1 L1342.2,743.9 L1342.4,743.4 L1342.7,740.7 L1343.0,740.5 L1343.2,738.4 L1343.5,736.7 L1343.7,735.9 L1344.0,734.0 L1344.4,731.7 L1344.7,728.2 L1345.1,728.1 L1345.5,727.4 L1345.8,725.2 L1346.2,723.8 L1346.6,721.4 L1346.9,721.6 L1347.3,717.9 L1347.7,717.7 L1348.1,715.4 L1348.4,712.8 L1348.8,710.8 L1349.2,709.6 L1349.5,708.6 L1349.9,707.6 L1350.3,704.5 L1350.6,703.1 L1351.0,704.1 L1351.4,703.1 L1351.8,699.5 L1352.2,698.1 L1352.6,697.0 L1353.0,693.5 L1353.4,693.5 L1353.8,692.4 L1354.2,691.8 L1354.6,689.1 L1355.0,687.1 L1355.1,685.2 L1355.3,684.9 L1355.4,682.3 L1355.6,680.5 L1355.7,679.6 L1355.9,677.2 L1356.0,674.6 L1356.2,674.4 L1356.3,673.6 L1356.5,670.7 L1356.6,668.3 L1356.7,666.7 L1356.9,667.3 L1357.0,663.6 L1357.2,663.4 L1357.3,660.3 L1357.5,659.8 L1357.6,659.3 L1357.8,655.9 L1357.9,654.5 L1358.1,653.7 L1358.2,652.0 L1358.5,650.4 L1358.7,648.3 L1359.0,645.6 L1359.3,645.7 L1359.5,643.2 L1359.8,642.6 L1360.1,640.5 L1360.3,638.4 L1360.6,639.0 L1360.8,635.3 L1361.1,635.8 L1361.4,632.7 L1361.6,631.2 L1361.9,628.8 L1362.2,626.9 L1362.4,627.0 L1362.7,624.6 L1363.0,623.4 L1363.2,620.6 L1363.5,620.0 L1363.8,618.9 L1364.1,617.7 L1364.3,615.9 L1364.6,613.5 L1364.9,612.8 L1365.2,611.0 L1365.5,609.0 L1365.7,607.9 L1366.0,605.3 L1366.3,603.0 L1366.6,601.7 L1366.9,602.8 L1367.1,601.0 L1367.4,599.2 L1367.7,595.8 L1368.0,596.1 L1368.3,594.4 L1368.5,592.1 L1368.8,589.7 L1369.1,587.5 L1369.4,588.8 L1369.7,587.3 L1369.9,585.2 L1370.2,582.4 L1370.5,581.8 L1370.9,580.8 L1371.2,578.0 L1371.6,575.0 L1371.9,576.3 L1372.3,573.2 L1372.6,572.5 L1373.0,570.4 L1373.3,566.8 L1373.7,566.6 L1374.0,563.5 L1374.4,562.8 L1374.8,563.6 L1375.1,561.1 L1375.5,559.1 L1375.8,555.9 L1376.2,556.4 L1376.5,554.5 L1376.9,553.0 L1377.2,551.6 L1377.6,551.0 L1378.0,547.7 L1378.5,546.7 L1378.9,544.9 L1379.4,543.6 L1379.8,542.4 L1380.3,538.9 L1380.7,536.9 L1381.2,535.6 L1381.6,533.8 L1382.0,534.2 L1382.5,531.7 L1382.9,532.0 L1383.4,528.0 L1383.8,526.4 L1384.3,527.6 L1384.7,522.9 L1385.3,522.6 L1385.9,522.6 L1386.5,520.6 L1387.0,517.8 L1387.6,515.7 L1388.2,516.2 L1388.8,513.3 L1389.4,514.5 L1390.0,510.4 L1390.5,511.9 L1391.1,506.4 L1391.7,507.4 L1392.1,504.6 L1392.6,503.8 L1393.0,502.1 L1393.5,502.0 L1393.9,498.1 L1394.4,498.8 L1394.8,494.4 L1395.2,495.2 L1395.7,494.3 L1396.1,491.3 L1396.6,491.4 L1397.0,487.9 L1397.5,486.4 L1397.9,487.0 L1398.4,485.7 L1398.8,483.5 L1399.3,479.7 L1399.9,481.2 L1400.4,477.3 L1401.0,477.9 L1401.5,474.1 L1402.0,472.2 L1402.6,470.9 L1403.1,471.2 L1403.6,471.0 L1404.2,467.5 L1404.7,464.3 L1405.3,465.3 L1405.8,464.6 L1406.3,462.6 L1406.8,457.8 L1407.3,457.5 L1407.9,457.8 L1408.4,456.0 L1408.9,455.6 L1409.4,453.6 L1409.9,454.7 L1410.3,455.8 L1410.8,456.2 L1411.3,456.4 L1411.7,460.8 L1412.2,461.2 L1412.7,464.3 L1413.1,463.0 L1413.6,467.4 L1414.1,468.1 L1414.5,470.6 L1415.0,471.4 L1415.5,471.9 L1415.9,473.8 L1416.4,473.8 L1416.8,475.9 L1417.2,478.7 L1417.6,478.8 L1418.0,481.1 L1418.4,483.7 L1418.8,485.0 L1419.2,487.7 L1419.6,487.6 L1420.0,489.6 L1420.3,490.7 L1420.7,493.5 L1421.1,494.6 L1421.5,497.3 L1421.9,495.9 L1422.3,497.4 L1422.7,499.6 L1423.1,502.4 L1423.5,504.0 L1423.9,504.0 L1424.3,505.8 L1424.7,508.6 L1425.1,508.9 L1425.4,512.6 L1425.8,511.5 L1426.2,515.5 L1426.6,514.8 L1427.0,518.4 L1427.4,520.2 L1427.8,522.4 L1428.2,523.8 L1428.6,522.2 L1428.9,526.1 L1429.3,528.6 L1429.7,529.6 L1430.1,530.1 L1430.5,532.7 L1430.9,532.6 L1431.3,536.0 L1431.7,536.2 L1432.1,539.8 L1432.5,537.9 L1432.9,541.5 L1433.3,541.4 L1433.7,545.3 L1434.0,547.6 L1434.4,547.4 L1434.8,550.3 L1435.2,549.6 L1435.6,550.4 L1436.0,554.8 L1436.4,555.0 L1436.8,555.4 L1437.2,559.1 L1437.6,561.7 L1438.1,559.7 L1438.7,563.5 L1439.2,563.9 L1439.8,564.1 L1440.3,565.7 L1440.8,567.1 L1441.4,569.7 L1441.9,571.2 L1442.5,573.7 L1443.0,575.4 L1443.3,577.8 L1443.6,579.4 L1444.0,578.7 L1444.3,581.9 L1444.6,584.3 L1444.9,583.8 L1445.3,586.6 L1445.6,589.5 L1445.9,589.9 L1446.2,591.8 L1446.5,592.1 L1446.9,596.0 L1447.2,597.1 L1447.5,597.0 L1447.8,598.5 L1448.2,599.1 L1448.5,602.3 L1448.8,605.2 L1449.1,606.5 L1449.3,606.0 L1449.6,607.9 L1449.9,609.2 L1450.2,611.1 L1450.4,612.4 L1450.7,613.9 L1451.0,616.7 L1451.3,619.4 L1451.5,620.8 L1451.8,621.6 L1452.1,622.2 L1452.3,625.6 L1452.6,625.0 L1452.9,626.0 L1453.2,628.1 L1453.4,631.5 L1453.7,632.8 L1454.0,633.1 L1454.3,634.4 L1454.5,637.3 L1454.8,638.5 L1455.1,640.9 L1455.4,641.4 L1455.6,641.8 L1455.9,643.4 L1456.1,645.5 L1456.3,648.0 L1456.6,650.2 L1456.8,651.3 L1457.0,651.3 L1457.2,655.7 L1457.4,655.9 L1457.7,657.8 L1457.9,658.3 L1458.1,660.1 L1458.3,661.6 L1458.6,664.4 L1458.8,666.9 L1459.0,666.6 L1459.2,668.5 L1459.4,669.9 L1459.7,670.8 L1459.9,672.4 L1460.1,676.2 L1460.3,678.4 L1460.5,677.3 L1460.8,679.0 L1461.0,681.7 L1461.2,682.9 L1461.4,684.3 L1461.7,687.8 L1461.9,687.4 L1462.2,689.0 L1462.4,692.8 L1462.6,693.5 L1462.9,695.3 L1463.1,696.8 L1463.4,696.5 L1463.6,701.0 L1463.8,699.7 L1464.1,701.9 L1464.3,704.3 L1464.6,707.0 L1464.8,708.9 L1465.1,707.7 L1465.3,709.7 L1465.5,710.9 L1465.8,712.9 L1466.0,716.8 L1466.3,715.9 L1466.5,719.0 L1467.0,719.1 L1467.5,719.8 L1468.0,722.4 L1468.5,723.9 L1469.0,726.5 L1469.5,729.4 L1470.0,729.5 L1470.5,731.0 L1471.0,731.5 L1471.5,732.6 L1472.0,735.4 L1472.5,736.5 L1473.0,740.1 L1473.5,738.7 L1474.1,739.5 L1474.7,741.2 L1475.3,743.9 L1475.9,745.0 L1476.4,747.3 L1477.0,751.0 L1477.6,751.9 L1478.2,752.8 L1478.8,755.2 L1479.2,756.9 L1479.5,755.5 L1479.9,759.2 L1480.3,758.8 L1480.7,761.3 L1481.0,762.7 L1481.4,763.8 L1481.8,764.5 L1482.1,766.6 L1482.5,770.0 L1482.9,772.4 L1483.3,773.7 L1483.6,772.1 L1484.0,775.6 L1484.7,775.2 L1485.4,778.2 L1486.2,779.7 L1486.9,779.3 L1487.6,780.3 L1488.3,783.7 L1489.0,782.9 L1489.8,788.3 L1490.5,789.9 L1491.2,787.7 L1491.6,792.0 L1492.0,793.7 L1492.3,792.4 L1492.7,796.0 L1493.1,797.1 L1493.5,797.6 L1493.9,801.5 L1494.2,802.1 L1494.6,804.6 L1495.0,806.4 L1495.3,808.0 L1495.5,808.6 L1495.8,810.8 L1496.1,809.7 L1496.4,812.2 L1496.6,814.1 L1496.9,815.8 L1497.2,816.9 L1497.4,819.8 L1497.7,820.6 L1498.0,823.0 L1498.3,823.2 L1498.5,826.4 L1498.8,826.1 L1499.0,829.5 L1499.2,829.8 L1499.4,830.8 L1499.6,833.1 L1499.8,833.1 L1500.0,836.4 L1500.2,837.7 L1500.4,839.9 L1500.7,839.3 L1500.9,841.9 L1501.1,843.9 L1501.3,843.9 L1501.5,847.5 L1501.7,849.5 L1501.9,850.2 L1502.1,852.2 L1502.3,854.6 L1502.7,854.3 L1503.1,856.0 L1503.4,858.9 L1503.8,859.6 L1504.2,859.7 L1504.6,862.3 L1504.9,864.5 L1505.3,866.3 L1505.7,865.2 L1506.1,866.8 L1506.5,870.2 L1506.8,871.8 L1507.2,873.3 L1507.6,874.0 L1508.1,875.1 L1508.5,878.9 L1509.0,877.6 L1509.5,879.3 L1510.0,879.8 L1510.4,881.6 L1510.9,885.2 L1511.4,886.9 L1511.9,886.7 L1512.3,890.3 L1512.8,889.6 L1513.3,891.9 L1513.8,894.5 L1514.2,896.6 L1514.7,896.8 L1515.3,899.9 L1516.0,899.8 L1516.6,902.1 L1517.2,904.4 L1517.9,904.6 L1518.5,906.0 L1519.2,909.2 L1519.8,906.5 L1520.4,907.9 L1521.1,909.4 L1521.7,911.8 L1522.9,914.4 L1524.1,916.1 L1525.2,917.7 L1526.4,914.5 L1527.6,921.3 L1528.8,918.7 L1529.5,923.8 L1530.3,922.3 L1531.0,926.2 L1531.8,927.1 L1532.5,925.2 L1533.3,929.1 L1534.0,929.7 L1535.5,934.7 L1537.1,928.3 L1538.6,929.7 L1540.1,927.9 L1541.6,926.4 L1543.2,930.9 L1544.7,931.5 L1546.1,928.7 L1547.5,934.6 L1548.9,930.5 L1550.3,936.7 L1551.7,934.7 L1552.2,937.4 L1552.6,936.9 L1553.0,940.0 L1553.5,940.7 L1554.0,942.6 L1554.4,943.0 L1554.8,945.0 L1555.3,945.7 L1555.7,947.4 L1556.1,951.1 L1556.4,949.6 L1556.8,953.8 L1557.2,955.1 L1557.6,954.5 L1558.0,957.0 L1558.3,960.0 L1558.7,960.3 L1559.1,961.8 L1559.5,963.4 L1559.9,963.7 L1560.3,968.2 L1560.6,968.8 L1561.0,968.7 L1561.4,970.4 L1561.8,970.3 L1562.3,969.4 L1562.7,966.7 L1563.2,964.2 L1563.6,963.0 L1564.1,962.2 L1564.5,962.0 L1564.9,959.8 L1565.4,956.4 L1565.8,954.1 L1566.3,955.1 L1566.7,952.1 L1567.2,953.0 L1567.6,948.9 L1567.9,949.9 L1568.1,947.7 L1568.4,944.3 L1568.6,942.0 L1568.9,942.8 L1569.2,939.0 L1569.4,937.5 L1569.7,936.6 L1570.0,934.3 L1570.2,932.4 L1570.5,932.2 L1570.7,930.9 L1571.0,929.7 L1571.3,925.8 L1571.5,924.1 L1571.8,923.8 L1572.1,923.0 L1572.3,919.7 L1572.6,919.3 L1572.8,916.1 L1573.1,917.0 L1573.4,915.2 L1573.6,913.8 L1573.9,910.5 L1574.2,907.9 L1574.4,908.5 L1574.7,905.7 L1575.0,903.8 L1575.2,902.4 L1575.5,901.7 L1575.8,900.1 L1576.0,897.5 L1576.3,895.4 L1576.6,893.4 L1576.9,891.5 L1577.1,892.7 L1577.4,891.1 L1577.7,886.6 L1577.9,886.6 L1578.2,887.0 L1579.0,883.5 L1579.7,883.9 L1580.5,878.4 L1581.2,879.7 L1582.0,878.7 L1582.7,873.6 L1583.5,872.7 L1584.1,874.4 L1584.6,869.8 L1585.2,869.9 L1585.8,869.6 L1586.3,867.2 L1586.9,865.9 L1587.4,862.4 L1588.0,862.6 L1588.2,859.2 L1588.3,858.3 L1588.5,857.0 L1588.6,856.0 L1588.8,852.7 L1588.9,851.2 L1589.1,850.5 L1589.2,848.3 L1589.4,848.8 L1589.5,846.0 L1589.7,844.9 L1589.8,842.9 L1590.0,842.5 L1590.1,841.1 L1590.3,839.5 L1590.4,835.7 L1590.6,835.6 L1590.8,834.5 L1590.9,833.3 L1591.0,830.7 L1591.2,828.9 L1591.3,826.5 L1591.5,824.5 L1591.6,822.9 L1591.8,822.1 L1592.0,821.7 L1592.1,819.2 L1592.2,818.0 L1592.4,815.7 L1592.5,816.0 L1592.7,814.3 L1592.8,810.9 L1593.0,809.7 L1593.2,807.3 L1593.3,806.5 L1593.5,804.5 L1593.7,804.2 L1593.8,801.5 L1594.0,800.9 L1594.2,797.5 L1594.3,797.8 L1594.5,796.0 L1594.7,793.5 L1594.8,793.2 L1595.0,791.9 L1595.2,790.4 L1595.3,788.2 L1595.5,785.9 L1595.7,784.7 L1595.8,783.6 L1596.0,780.8 L1596.2,780.7 L1596.3,778.9 L1596.5,777.0 L1596.7,775.6 L1596.8,772.1 L1597.0,772.6 L1597.2,770.0 L1597.3,769.0 L1597.5,767.3 L1597.7,765.1 L1597.8,764.3 L1598.0,763.1 L1598.1,761.9 L1598.3,757.6 L1598.5,758.4 L1598.6,756.5 L1598.8,754.4 L1599.0,753.2 L1599.1,750.5 L1599.3,749.0 L1599.5,746.4 L1599.6,747.3 L1599.8,745.3 L1599.9,742.9 L1600.1,741.6 L1600.3,740.6 L1600.4,737.2 L1600.6,736.7 L1600.8,735.6 L1601.1,733.5 L1601.3,733.1 L1601.6,729.3 L1601.8,729.0 L1602.0,727.7 L1602.3,724.9 L1602.5,724.9 L1602.8,721.7 L1603.0,719.3 L1603.2,717.8 L1603.5,716.8 L1603.7,717.0 L1604.0,715.2 L1604.2,713.5 L1604.5,711.2 L1604.7,709.1 L1604.9,707.9 L1605.2,706.2 L1605.4,705.6 L1605.7,702.3 L1605.9,700.6 L1606.3,700.3 L1606.7,699.0 L1607.2,697.3 L1607.6,693.5 L1608.0,693.8 L1608.4,690.9 L1608.8,689.3 L1609.2,687.7 L1609.7,685.2 L1610.1,684.1 L1610.5,684.6 L1610.9,683.5 L1611.3,679.4 L1611.7,681.0 L1612.2,677.7 L1612.6,677.3 L1613.0,673.2 L1613.3,671.7 L1613.6,672.6 L1613.9,668.7 L1614.2,666.9 L1614.5,667.4 L1614.8,663.8 L1615.1,663.5 L1615.4,663.3 L1615.8,659.4 L1616.1,660.2 L1616.4,658.9 L1616.7,657.6 L1617.0,654.8 L1617.3,653.9 L1617.6,650.2 L1617.9,650.0 L1618.2,649.2 L1618.4,647.6 L1618.5,644.1 L1618.7,644.3 L1618.8,641.5 L1619.0,640.2 L1619.2,639.4 L1619.3,637.5 L1619.5,634.9 L1619.6,634.8 L1619.8,633.4 L1620.0,631.4 L1620.1,627.8 L1620.3,626.1 L1620.4,626.0 L1620.6,623.1 L1620.7,621.5 L1620.9,622.0 L1621.1,618.2 L1621.2,617.2 L1621.4,615.7 L1621.5,615.8 L1621.7,614.4 L1621.9,612.3 L1622.2,609.8 L1622.4,607.2 L1622.7,608.3 L1622.9,604.5 L1623.1,604.2 L1623.4,603.1 L1623.6,600.8 L1623.9,600.4 L1624.1,599.0 L1624.3,595.7 L1624.6,595.2 L1624.8,591.8 L1625.1,591.3 L1625.3,590.5 L1625.5,587.8 L1625.6,586.4 L1625.8,585.9 L1626.0,582.8 L1626.2,583.2 L1626.3,579.4 L1626.5,578.0 L1626.7,577.5 L1626.9,574.8 L1627.0,574.9 L1627.2,572.0 L1627.4,569.8 L1627.6,569.7 L1627.8,567.4 L1627.9,566.3 L1628.1,563.3 L1628.3,561.6 L1628.5,560.6 L1628.6,559.6 L1628.8,557.2 L1629.0,555.6 L1629.1,555.7 L1629.3,552.5 L1629.4,551.2 L1629.6,551.0 L1629.7,549.7 L1629.9,547.5 L1630.0,544.2 L1630.2,544.2 L1630.3,540.8 L1630.5,541.1 L1630.6,538.1 L1630.8,536.3 L1630.9,535.3 L1631.1,532.9 L1631.2,532.7 L1631.4,531.5 L1631.5,529.5 L1631.7,528.2 L1631.8,524.9 L1632.0,523.6 L1632.1,523.5 L1632.3,520.5 L1632.5,520.1 L1632.6,518.0 L1632.8,515.3 L1633.0,513.9 L1633.1,514.2 L1633.3,512.5 L1633.4,510.1 L1633.6,506.9 L1633.8,505.3 L1633.9,506.2 L1634.1,504.3 L1634.3,502.4 L1634.4,499.6 L1634.6,499.8 L1634.8,495.9 L1634.9,496.0 L1635.1,494.4 L1635.2,491.9 L1635.4,491.5 L1635.6,488.2 L1635.7,488.8 L1635.9,487.3 L1636.2,483.8 L1636.4,482.1 L1636.7,481.9 L1637.0,478.9 L1637.2,478.0 L1637.5,476.7 L1637.8,475.9 L1638.1,473.6 L1638.3,470.5 L1638.6,469.1 L1638.9,466.6 L1639.1,467.3 L1639.4,466.6 L1640.3,461.8 L1641.2,461.9 L1642.1,459.8 L1643.0,458.1 L1643.8,455.4 L1644.7,457.2 L1645.6,457.9 L1646.5,452.1 L1647.5,454.1 L1648.6,452.8 L1649.6,450.0 L1650.7,450.4 L1651.7,446.7 L1652.1,446.0 L1652.5,442.4 L1652.9,441.2 L1653.3,441.4 L1653.7,440.8 L1654.1,437.9 L1654.6,438.2 L1655.0,435.0 L1655.4,433.2 L1655.8,433.1 L1656.2,432.2 L1656.6,430.6 L1657.0,428.5 L1657.9,424.6 L1658.8,423.6 L1659.7,423.5 L1660.5,419.3 L1661.4,419.2 L1662.3,419.9 L1662.8,416.3 L1663.2,416.4 L1663.7,413.6 L1664.1,411.5 L1664.5,410.8 L1665.0,409.2 L1665.5,407.6 L1665.9,406.0 L1666.8,410.7 L1667.7,410.1 L1668.5,411.1 L1669.4,411.1 L1670.3,412.6 L1671.2,416.8 L1672.1,415.6 L1672.9,415.9 L1673.8,418.6 L1674.7,421.3 L1675.2,423.9 L1675.7,425.0 L1676.2,425.1 L1676.7,425.3 L1677.2,429.7 L1677.7,427.8 L1678.2,431.5 L1678.7,434.6 L1679.2,433.4 L1679.7,435.8 L1680.2,436.4 L1680.7,438.3 L1681.2,438.6 L1681.7,442.2 L1682.3,444.1 L1682.9,443.3 L1683.5,444.3 L1684.1,446.9 L1684.6,449.0 L1685.2,450.9 L1685.8,453.7 L1686.4,454.4 L1687.0,452.6 L1688.3,453.5 L1689.6,457.5 L1690.9,456.6 L1692.1,462.1 L1693.4,462.7 L1694.7,464.1 L1696.0,463.9 L1697.4,461.5 L1698.8,466.7 L1700.2,463.5 L1701.6,463.2 L1703.0,464.4 L1703.6,464.5 L1704.2,465.5 L1704.8,462.8 L1705.5,461.2 L1706.1,458.5 L1706.7,457.2 L1707.3,457.8 L1707.9,459.6 L1708.4,458.1 L1709.0,460.7 L1709.6,461.7 L1710.1,461.8 L1710.7,464.6 L1711.2,464.2 L1711.8,468.7 L1712.4,468.4 L1712.9,471.0 L1713.5,472.9 L1714.1,472.1 L1714.7,476.8 L1715.3,478.5 L1715.9,477.9 L1716.4,477.7 L1717.0,481.8 L1717.6,483.5 L1718.2,483.1 L1718.8,486.9 L1719.2,486.6 L1719.5,488.0 L1719.9,488.9 L1720.3,492.4 L1720.7,494.4 L1721.0,495.6 L1721.4,495.7 L1721.8,497.2 L1722.1,497.9 L1722.5,499.8 L1722.9,501.6 L1723.3,502.9 L1723.6,503.8 L1724.0,506.6 L1724.4,506.7 L1724.8,510.0 L1725.2,509.7 L1725.5,512.6 L1725.9,513.1 L1726.3,514.9 L1726.7,518.3 L1727.1,517.6 L1727.5,521.7 L1727.9,522.8 L1728.2,524.2 L1728.6,525.3 L1729.0,527.5 L1729.4,527.1 L1729.9,529.3 L1730.4,529.3 L1730.9,530.7 L1731.4,533.9 L1731.9,536.2 L1732.4,539.2 L1732.9,540.2 L1733.4,538.5 L1733.9,543.5 L1734.4,542.9 L1734.9,544.5 L1735.4,545.0 L1735.9,546.2 L1736.4,549.2 L1737.0,551.1 L1737.6,553.9 L1738.2,554.5 L1738.8,553.9 L1739.4,557.2 L1740.0,559.6 L1740.5,558.5 L1741.1,560.2 L1741.7,561.5 L1742.3,566.2 L1742.9,564.0 L1743.5,567.9 L1744.7,564.9 L1745.8,566.1 L1747.0,563.5 L1748.2,560.5 L1749.3,563.5 L1750.5,560.2 L1751.4,556.0 L1752.2,555.9 L1753.1,554.3 L1753.9,553.9 L1754.8,551.7 L1755.6,553.1 L1756.5,551.4 L1757.0,552.1 L1757.4,553.0 L1757.9,556.0 L1758.4,556.5 L1758.8,559.6 L1759.3,561.4 L1759.8,562.4 L1760.2,564.7 L1760.7,563.7 L1761.1,567.4 L1761.6,567.1 L1762.1,570.4 L1762.5,571.0 L1763.0,571.0 L1763.7,572.3 L1764.3,576.5 L1765.0,576.0 L1765.6,575.8 L1766.2,579.3 L1766.9,578.5 L1767.5,579.5 L1768.2,581.3 L1769.6,586.0 L1771.0,583.0 L1772.4,588.7 L1773.8,583.9 L1775.2,587.0 L1776.6,583.6 L1778.0,588.0 L1779.4,586.6 L1780.8,587.1 L1782.2,586.5 L1783.6,586.4 L1785.0,582.0 L1786.2,582.8 L1787.4,585.5 L1788.6,585.8 L1789.8,585.0 L1791.0,587.8 L1791.9,588.8 L1792.7,592.9 L1793.6,589.6 L1794.4,594.5 L1795.3,595.6 L1796.1,598.1 L1797.0,597.4 L1798.0,599.5 L1799.0,597.1 L1800.0,602.9 L1801.0,599.0 L1802.0,603.6 L1803.0,601.7 L1804.0,603.7 L1805.0,607.7 L1806.0,607.2 L1806.7,610.1 L1807.4,609.5 L1808.1,610.4 L1808.8,613.1 L1809.4,615.4 L1810.1,618.4 L1810.8,620.2 L1811.5,619.0 L1812.9,624.1 L1814.3,621.5 L1815.8,619.0 L1817.2,622.0 L1818.6,623.9 L1820.0,625.0 L1821.3,620.9 L1822.6,628.1 L1823.9,625.8 L1825.2,622.4 L1826.5,625.3 L1827.8,630.2 L1829.1,625.1 L1830.4,627.8 L1831.7,631.1 L1832.7,628.8 L1833.8,633.7 L1834.8,634.1 L1835.8,633.2 L1836.8,637.8 L1837.8,634.3 L1838.9,636.2 L1839.9,641.0 L1840.9,641.1 L1842.0,639.9 L1843.0,642.2 L1844.0,646.8 L1845.5,640.9 L1847.1,639.5 L1848.6,642.5 L1850.1,639.7 L1851.6,643.1 L1853.2,639.0 L1854.7,638.0 L1856.2,641.4 L1857.7,644.1 L1859.2,640.5 L1860.8,643.9 L1862.3,643.9 L1863.8,641.8 L1865.3,639.8 L1866.0,637.4 L1866.6,634.6 L1867.3,635.2 L1868.0,632.1 L1868.7,632.4 L1869.3,630.3 L1870.0,629.4 L1870.7,628.0 L1871.3,626.5 L1872.0,626.7 L1872.7,623.5 L1873.3,620.0 L1874.0,622.3 L1874.7,620.2 L1875.3,617.0 L1876.0,616.0 L1876.7,615.1 L1877.3,612.9 L1878.0,613.2 L1879.4,616.6 L1880.8,610.8 L1882.2,618.0 L1883.6,619.5 L1885.0,619.6 L1886.4,618.0" fill="none" stroke="#ff0000" stroke-width="8.4" stroke-linejoin="miter" stroke-miterlimit="2.5"/>
<text class="tk" transform="translate(202.3,90.8) scale(1.12,1)" text-anchor="end">30</text>
<text class="tk" transform="translate(202.3,320.0) scale(1.12,1)" text-anchor="end">28</text>
<text class="tk" transform="translate(202.3,549.1) scale(1.12,1)" text-anchor="end">26</text>
<text class="tk" transform="translate(202.3,778.3) scale(1.12,1)" text-anchor="end">24</text>
<text class="tk" transform="translate(202.3,1007.4) scale(1.12,1)" text-anchor="end">22</text>
<text class="tk" transform="translate(202.3,1236.6) scale(1.12,1)" text-anchor="end">20</text>
<text class="tk" transform="translate(1931.5,88.2) scale(1.12,1)" text-anchor="start">1700</text>
<text class="tk" transform="translate(1931.5,374.6) scale(1.12,1)" text-anchor="start">1600</text>
<text class="tk" transform="translate(1931.5,661.1) scale(1.12,1)" text-anchor="start">1500</text>
<text class="tk" transform="translate(1931.5,947.5) scale(1.12,1)" text-anchor="start">1400</text>
<text class="tk" transform="translate(1931.5,1234.0) scale(1.12,1)" text-anchor="start">1300</text>
<text class="tk" transform="translate(244.8,1299.3) scale(1.12,1)" text-anchor="middle">200</text>
<text class="tk" transform="translate(573.6,1299.3) scale(1.12,1)" text-anchor="middle">220</text>
<text class="tk" transform="translate(902.4,1299.3) scale(1.12,1)" text-anchor="middle">240</text>
<text class="tk" transform="translate(1231.1,1299.3) scale(1.12,1)" text-anchor="middle">260</text>
<text class="tk" transform="translate(1559.9,1299.3) scale(1.12,1)" text-anchor="middle">280</text>
<text class="tk" transform="translate(1888.7,1299.3) scale(1.12,1)" text-anchor="middle">300</text>
<text class="tt" transform="translate(1093.5,1394.7) scale(1.005,1)" text-anchor="middle" font-size="90" fill="#000" xml:space="preserve">Time  (s)</text>
<text class="tt" transform="translate(96.7,637.3) rotate(-90)" text-anchor="middle" font-size="90.3" fill="#000" xml:space="preserve">Rotor speed  (r/min)</text>
<text transform="translate(2121.3,622.7) rotate(-90)" text-anchor="middle" font-size="88" word-spacing="4" font-weight="bold" fill="#ff0000">Energy storage pump speed</text>
<text transform="translate(2226.4,620.8) rotate(-90)" text-anchor="middle" font-size="88" letter-spacing="0.7" font-weight="bold" fill="#ff0000">(r/min)</text>
</svg>
</body></html>
